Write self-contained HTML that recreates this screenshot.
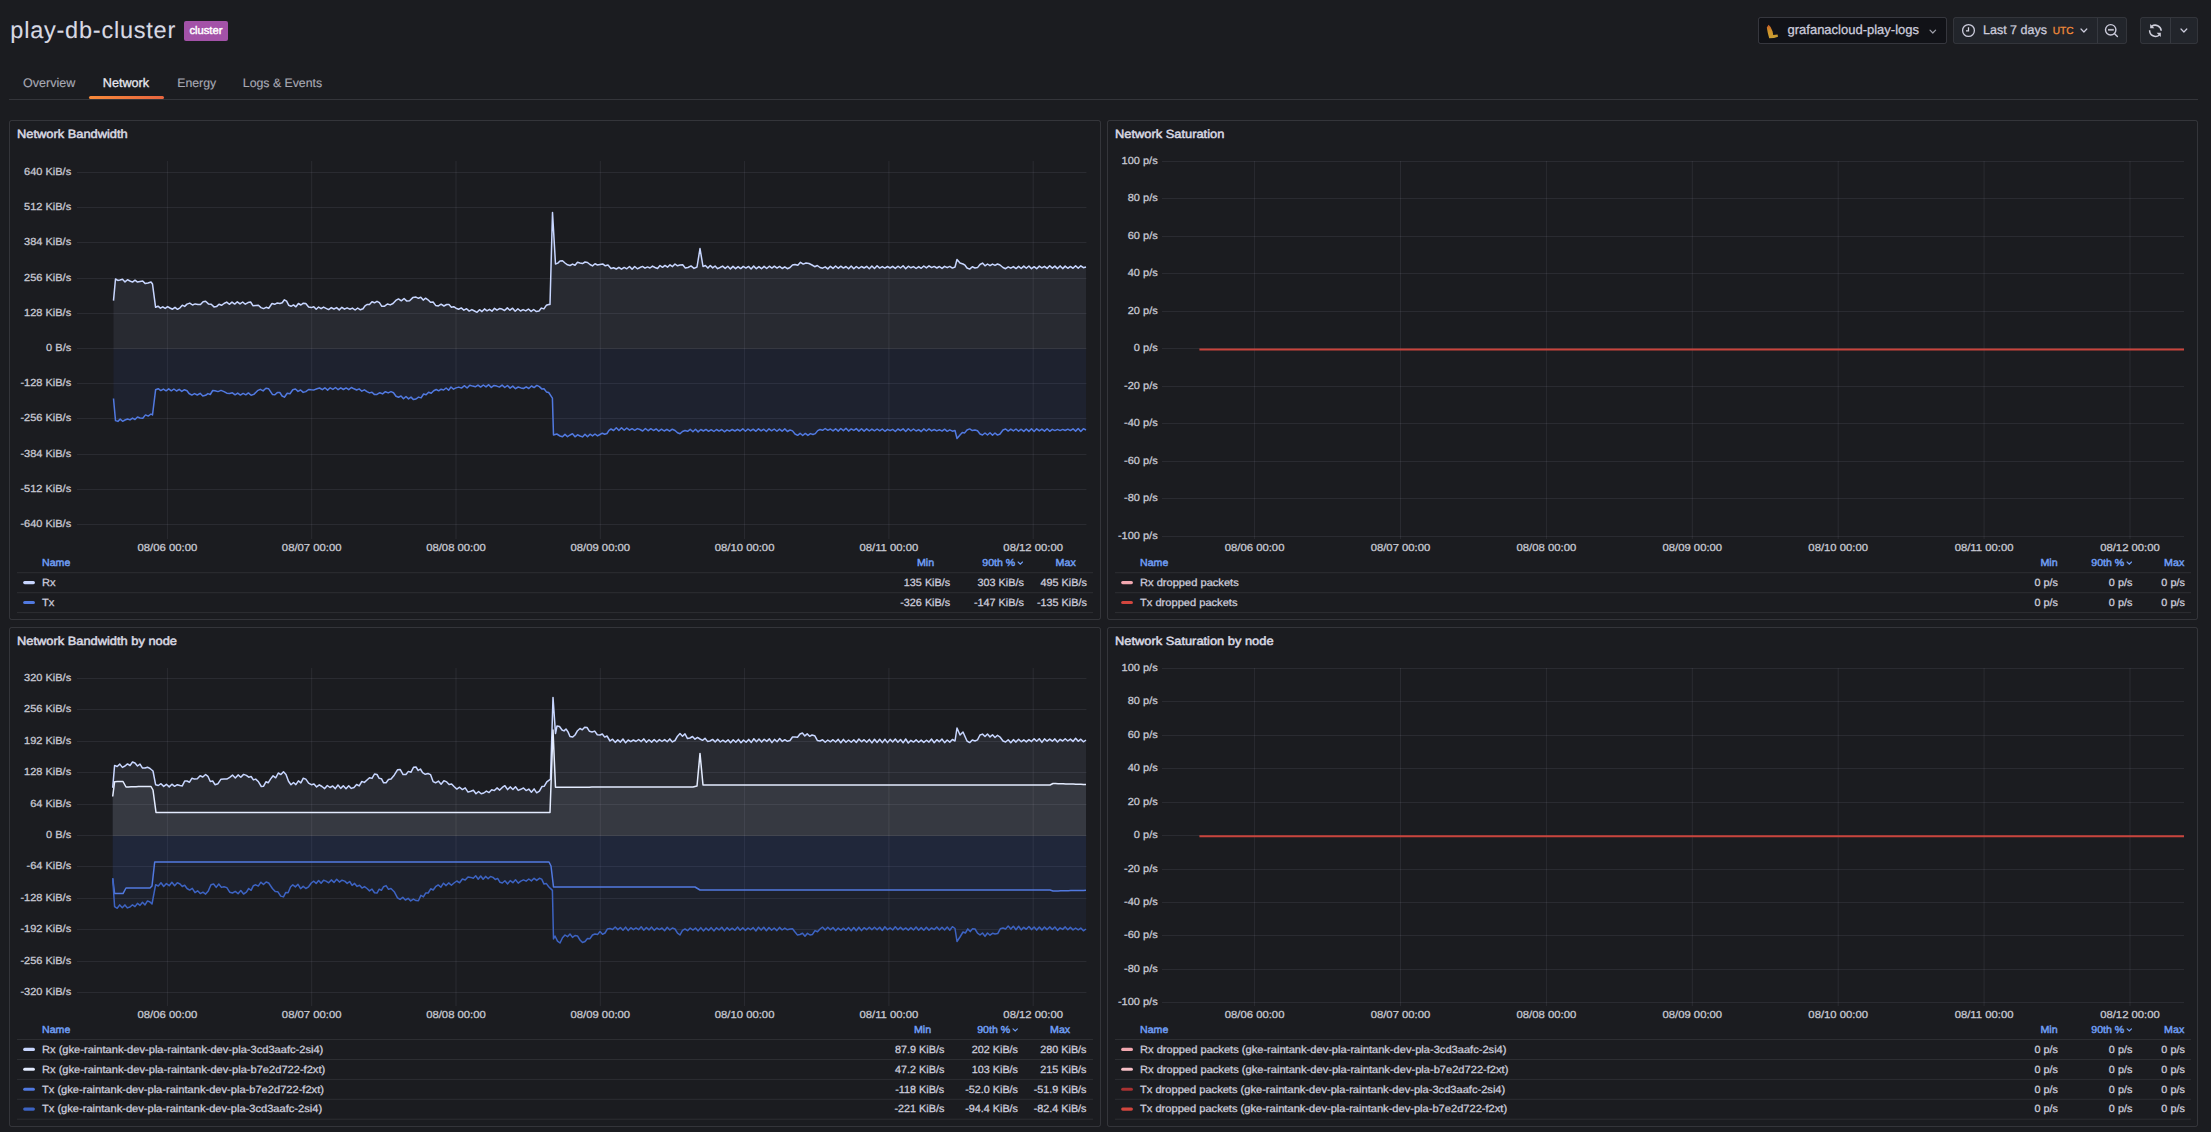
<!DOCTYPE html>
<html><head><meta charset="utf-8"><title>play-db-cluster - Network</title>
<style>
html,body{margin:0;padding:0;background:#1b1c20;width:2211px;height:1132px;overflow:hidden;font-family:"Liberation Sans", sans-serif;}
.page{position:relative;width:2211px;height:1132px;}
</style></head><body><div class="page">
<svg width="2211" height="1132" viewBox="0 0 2211 1132" style="position:absolute;left:0;top:0;font-family:'Liberation Sans', sans-serif;text-rendering:geometricPrecision">
<text x="10.30" y="37.70" font-size="23.50" fill="#d8d9e3" stroke="#d8d9e3" stroke-width="0.1" text-anchor="start" font-weight="normal" textLength="165" lengthAdjust="spacing">play-db-cluster</text>
<rect x="184" y="21" width="44" height="20" rx="2" fill="#a352a8"/>
<text x="189.40" y="34.00" font-size="11.00" fill="#ffffff" stroke="#ffffff" stroke-width="0.45" text-anchor="start" font-weight="normal" textLength="33" lengthAdjust="spacingAndGlyphs">cluster</text>
<rect x="1758.5" y="17.5" width="188" height="26" rx="2" fill="#111217" stroke="rgba(204,204,220,0.18)"/>
<defs><linearGradient id="lokig" x1="0" x2="0" y1="0" y2="1"><stop offset="0" stop-color="#e8662c"/><stop offset="0.45" stop-color="#f0a82c"/><stop offset="1" stop-color="#e9b83a"/></linearGradient></defs>
<path d="M1766.8,27.5 L1768.6,24.8 L1770.6,27 L1772.6,31.5 L1773.2,35 L1777.6,34.6 L1778,36.8 L1774,38 L1769.2,38.2 L1767.8,33 Z" fill="url(#lokig)" opacity="0.85"/>
<text x="1787.50" y="33.80" font-size="13.00" fill="#ccccdc" stroke="#ccccdc" stroke-width="0.28" text-anchor="start" font-weight="normal" >grafanacloud-play-logs</text>
<path d="M1930,30.2 L1932.8,33 L1935.6,30.2" fill="none" stroke="#9fa0aa" stroke-width="1.2" stroke-linecap="round" stroke-linejoin="round"/>
<rect x="1953.5" y="17.5" width="173" height="26" rx="2" fill="#22252b" stroke="rgba(204,204,220,0.12)"/>
<line x1="2097.5" y1="18" x2="2097.5" y2="43" stroke="rgba(204,204,220,0.12)"/>
<circle cx="1968.5" cy="30.5" r="5.9" fill="none" stroke="#ccccdc" stroke-width="1.3"/>
<path d="M1968.5,27.2 L1968.5,30.8 L1966.0,30.8" fill="none" stroke="#d8d8e4" stroke-width="1.3"/>
<text x="1983.00" y="33.80" font-size="12.50" fill="#ccccdc" stroke="#ccccdc" stroke-width="0.28" text-anchor="start" font-weight="normal" >Last 7 days</text>
<text x="2052.70" y="33.80" font-size="10.20" fill="#f08a3a" stroke="#f08a3a" stroke-width="0.28" text-anchor="start" font-weight="normal" >UTC</text>
<path d="M2081,29 L2083.9,32 L2086.8,29" fill="none" stroke="#ccccdc" stroke-width="1.2" stroke-linecap="round" stroke-linejoin="round"/>
<circle cx="2110.7" cy="29.8" r="5.2" fill="none" stroke="#ccccdc" stroke-width="1.4"/>
<line x1="2108" y1="29.8" x2="2113.8" y2="29.8" stroke="#b8b8c4" stroke-width="1.8"/>
<line x1="2114.6" y1="33.8" x2="2117.4" y2="36.5" stroke="#ccccdc" stroke-width="1.4" stroke-linecap="round"/>
<rect x="2140.5" y="17.5" width="57" height="26" rx="2" fill="#22252b" stroke="rgba(204,204,220,0.12)"/>
<line x1="2170.5" y1="18" x2="2170.5" y2="43" stroke="rgba(204,204,220,0.12)"/>
<path d="M2151.6,26.4 A6,6 0 0 1 2161.2,30.8" fill="none" stroke="#d0d0dc" stroke-width="1.5"/>
<path d="M2149.6,30.2 A6,6 0 0 0 2159.4,35.0" fill="none" stroke="#d0d0dc" stroke-width="1.5"/>
<path d="M2150.2,24 L2150.2,28.3 L2154.4,28.3 Z" fill="#d0d0dc"/>
<path d="M2160.8,37.1 L2160.8,32.8 L2156.6,32.8 Z" fill="#d0d0dc"/>
<path d="M2181,29 L2183.9,32 L2186.8,29" fill="none" stroke="#ccccdc" stroke-width="1.2" stroke-linecap="round" stroke-linejoin="round"/>
<text x="23.10" y="87.10" font-size="12.50" fill="#a8a9b4" stroke="#a8a9b4" stroke-width="0.15" text-anchor="start" font-weight="normal" >Overview</text>
<text x="102.80" y="87.10" font-size="12.60" fill="#e8e8f0" stroke="#e8e8f0" stroke-width="0.3" text-anchor="start" font-weight="normal" >Network</text>
<text x="177.20" y="87.10" font-size="12.30" fill="#a8a9b4" stroke="#a8a9b4" stroke-width="0.15" text-anchor="start" font-weight="normal" >Energy</text>
<text x="242.80" y="87.10" font-size="12.30" fill="#a8a9b4" stroke="#a8a9b4" stroke-width="0.15" text-anchor="start" font-weight="normal" >Logs &amp; Events</text>
<defs><linearGradient id="tabg" x1="0" x2="1" y1="0" y2="0"><stop offset="0" stop-color="#f88a3a"/><stop offset="1" stop-color="#e8653f"/></linearGradient></defs>
<line x1="9" y1="99.5" x2="2198" y2="99.5" stroke="rgba(204,204,220,0.14)"/>
<rect x="89" y="96" width="75" height="3" rx="1.5" fill="url(#tabg)"/>
<rect x="9.5" y="120.5" width="1091" height="499" rx="2" fill="none" stroke="rgba(204,204,220,0.14)"/>
<text x="17.00" y="138.30" font-size="11.95" fill="#d8d8e2" stroke="#d8d8e2" stroke-width="0.5" text-anchor="start" font-weight="normal"  textLength="110.71" lengthAdjust="spacingAndGlyphs">Network Bandwidth</text>
<rect x="1107.5" y="120.5" width="1090" height="499" rx="2" fill="none" stroke="rgba(204,204,220,0.14)"/>
<text x="1115.00" y="138.30" font-size="11.95" fill="#d8d8e2" stroke="#d8d8e2" stroke-width="0.5" text-anchor="start" font-weight="normal"  textLength="109.28" lengthAdjust="spacingAndGlyphs">Network Saturation</text>
<rect x="9.5" y="627.5" width="1091" height="499" rx="2" fill="none" stroke="rgba(204,204,220,0.14)"/>
<text x="17.00" y="645.00" font-size="11.95" fill="#d8d8e2" stroke="#d8d8e2" stroke-width="0.5" text-anchor="start" font-weight="normal"  textLength="160.00" lengthAdjust="spacingAndGlyphs">Network Bandwidth by node</text>
<rect x="1107.5" y="627.5" width="1090" height="499" rx="2" fill="none" stroke="rgba(204,204,220,0.14)"/>
<text x="1115.00" y="645.00" font-size="11.95" fill="#d8d8e2" stroke="#d8d8e2" stroke-width="0.5" text-anchor="start" font-weight="normal"  textLength="158.57" lengthAdjust="spacingAndGlyphs">Network Saturation by node</text>
<line x1="77" y1="172.5" x2="1086.4" y2="172.5" stroke="rgba(204,204,220,0.09)"/>
<text x="71.20" y="175.40" font-size="10.23" fill="#c7c8d2" stroke="#c7c8d2" stroke-width="0.28" text-anchor="end" font-weight="normal"  textLength="47.08" lengthAdjust="spacingAndGlyphs">640 KiB/s</text>
<line x1="77" y1="207.5" x2="1086.4" y2="207.5" stroke="rgba(204,204,220,0.09)"/>
<text x="71.20" y="210.40" font-size="10.23" fill="#c7c8d2" stroke="#c7c8d2" stroke-width="0.28" text-anchor="end" font-weight="normal"  textLength="47.08" lengthAdjust="spacingAndGlyphs">512 KiB/s</text>
<line x1="77" y1="242.5" x2="1086.4" y2="242.5" stroke="rgba(204,204,220,0.09)"/>
<text x="71.20" y="245.40" font-size="10.23" fill="#c7c8d2" stroke="#c7c8d2" stroke-width="0.28" text-anchor="end" font-weight="normal"  textLength="47.08" lengthAdjust="spacingAndGlyphs">384 KiB/s</text>
<line x1="77" y1="278.5" x2="1086.4" y2="278.5" stroke="rgba(204,204,220,0.09)"/>
<text x="71.20" y="281.40" font-size="10.23" fill="#c7c8d2" stroke="#c7c8d2" stroke-width="0.28" text-anchor="end" font-weight="normal"  textLength="47.08" lengthAdjust="spacingAndGlyphs">256 KiB/s</text>
<line x1="77" y1="313.5" x2="1086.4" y2="313.5" stroke="rgba(204,204,220,0.09)"/>
<text x="71.20" y="316.40" font-size="10.23" fill="#c7c8d2" stroke="#c7c8d2" stroke-width="0.28" text-anchor="end" font-weight="normal"  textLength="47.08" lengthAdjust="spacingAndGlyphs">128 KiB/s</text>
<line x1="77" y1="348.5" x2="1086.4" y2="348.5" stroke="rgba(204,204,220,0.09)"/>
<text x="71.20" y="351.40" font-size="10.23" fill="#c7c8d2" stroke="#c7c8d2" stroke-width="0.28" text-anchor="end" font-weight="normal"  textLength="25.07" lengthAdjust="spacingAndGlyphs">0 B/s</text>
<line x1="77" y1="383.5" x2="1086.4" y2="383.5" stroke="rgba(204,204,220,0.09)"/>
<text x="71.20" y="386.40" font-size="10.23" fill="#c7c8d2" stroke="#c7c8d2" stroke-width="0.28" text-anchor="end" font-weight="normal"  textLength="50.75" lengthAdjust="spacingAndGlyphs">-128 KiB/s</text>
<line x1="77" y1="418.5" x2="1086.4" y2="418.5" stroke="rgba(204,204,220,0.09)"/>
<text x="71.20" y="421.40" font-size="10.23" fill="#c7c8d2" stroke="#c7c8d2" stroke-width="0.28" text-anchor="end" font-weight="normal"  textLength="50.75" lengthAdjust="spacingAndGlyphs">-256 KiB/s</text>
<line x1="77" y1="454.5" x2="1086.4" y2="454.5" stroke="rgba(204,204,220,0.09)"/>
<text x="71.20" y="457.40" font-size="10.23" fill="#c7c8d2" stroke="#c7c8d2" stroke-width="0.28" text-anchor="end" font-weight="normal"  textLength="50.75" lengthAdjust="spacingAndGlyphs">-384 KiB/s</text>
<line x1="77" y1="489.5" x2="1086.4" y2="489.5" stroke="rgba(204,204,220,0.09)"/>
<text x="71.20" y="492.40" font-size="10.23" fill="#c7c8d2" stroke="#c7c8d2" stroke-width="0.28" text-anchor="end" font-weight="normal"  textLength="50.75" lengthAdjust="spacingAndGlyphs">-512 KiB/s</text>
<line x1="77" y1="524.5" x2="1086.4" y2="524.5" stroke="rgba(204,204,220,0.09)"/>
<text x="71.20" y="527.40" font-size="10.23" fill="#c7c8d2" stroke="#c7c8d2" stroke-width="0.28" text-anchor="end" font-weight="normal"  textLength="50.75" lengthAdjust="spacingAndGlyphs">-640 KiB/s</text>
<line x1="167.4" y1="161" x2="167.4" y2="539" stroke="rgba(204,204,220,0.09)"/>
<text x="167.40" y="551.20" font-size="10.17" fill="#c7c8d2" stroke="#c7c8d2" stroke-width="0.28" text-anchor="middle" font-weight="normal"  textLength="59.69" lengthAdjust="spacingAndGlyphs">08/06 00:00</text>
<line x1="311.7" y1="161" x2="311.7" y2="539" stroke="rgba(204,204,220,0.09)"/>
<text x="311.70" y="551.20" font-size="10.17" fill="#c7c8d2" stroke="#c7c8d2" stroke-width="0.28" text-anchor="middle" font-weight="normal"  textLength="59.69" lengthAdjust="spacingAndGlyphs">08/07 00:00</text>
<line x1="456.0" y1="161" x2="456.0" y2="539" stroke="rgba(204,204,220,0.09)"/>
<text x="456.00" y="551.20" font-size="10.17" fill="#c7c8d2" stroke="#c7c8d2" stroke-width="0.28" text-anchor="middle" font-weight="normal"  textLength="59.69" lengthAdjust="spacingAndGlyphs">08/08 00:00</text>
<line x1="600.3" y1="161" x2="600.3" y2="539" stroke="rgba(204,204,220,0.09)"/>
<text x="600.30" y="551.20" font-size="10.17" fill="#c7c8d2" stroke="#c7c8d2" stroke-width="0.28" text-anchor="middle" font-weight="normal"  textLength="59.69" lengthAdjust="spacingAndGlyphs">08/09 00:00</text>
<line x1="744.6" y1="161" x2="744.6" y2="539" stroke="rgba(204,204,220,0.09)"/>
<text x="744.60" y="551.20" font-size="10.17" fill="#c7c8d2" stroke="#c7c8d2" stroke-width="0.28" text-anchor="middle" font-weight="normal"  textLength="59.69" lengthAdjust="spacingAndGlyphs">08/10 00:00</text>
<line x1="888.9" y1="161" x2="888.9" y2="539" stroke="rgba(204,204,220,0.09)"/>
<text x="888.90" y="551.20" font-size="10.17" fill="#c7c8d2" stroke="#c7c8d2" stroke-width="0.28" text-anchor="middle" font-weight="normal"  textLength="58.86" lengthAdjust="spacingAndGlyphs">08/11 00:00</text>
<line x1="1033.2" y1="161" x2="1033.2" y2="539" stroke="rgba(204,204,220,0.09)"/>
<text x="1033.20" y="551.20" font-size="10.17" fill="#c7c8d2" stroke="#c7c8d2" stroke-width="0.28" text-anchor="middle" font-weight="normal"  textLength="59.69" lengthAdjust="spacingAndGlyphs">08/12 00:00</text>
<path d="M113.5,300.6 L115.5,279.0 L117.8,280.4 L120.0,280.0 L122.5,279.2 L125.0,281.9 L127.5,279.8 L130.0,281.0 L132.5,282.1 L135.0,280.2 L137.5,282.1 L140.0,281.5 L142.7,281.0 L145.3,283.6 L148.0,283.0 L151.0,282.0 L152.5,284.0 L155.6,307.3 L158.0,306.2 L160.4,308.2 L162.8,306.8 L165.2,308.4 L167.6,306.6 L170.0,308.0 L172.5,309.2 L175.0,307.3 L177.5,309.3 L180.0,307.8 L182.3,305.2 L184.7,306.4 L187.0,304.1 L189.8,303.1 L192.5,305.0 L195.2,303.9 L198.0,304.5 L200.5,304.5 L203.1,301.8 L205.6,301.3 L208.4,303.9 L211.2,304.3 L214.0,306.9 L216.5,306.6 L219.0,304.2 L221.5,305.3 L224.0,303.5 L226.7,302.1 L229.3,304.3 L232.0,302.1 L234.7,304.1 L237.3,301.8 L240.0,303.9 L242.7,302.0 L245.3,304.2 L248.0,302.6 L250.6,302.0 L253.1,305.8 L255.7,305.4 L258.4,305.3 L261.0,307.6 L263.6,308.6 L266.1,307.3 L268.7,308.2 L272.0,303.5 L274.7,304.3 L277.3,302.9 L280.0,303.5 L282.2,302.8 L284.4,299.8 L286.6,301.2 L288.8,305.3 L291.0,306.3 L293.5,304.9 L295.9,306.8 L298.4,303.5 L300.9,305.0 L303.3,303.2 L305.8,303.5 L308.6,307.0 L311.3,307.6 L313.8,306.8 L316.2,309.3 L318.6,307.0 L321.1,308.7 L323.6,307.1 L326.0,308.3 L328.6,309.6 L331.3,307.6 L333.9,309.0 L336.6,307.6 L339.2,309.9 L341.9,307.3 L344.5,309.2 L347.1,307.8 L349.8,309.2 L352.4,308.1 L355.1,310.0 L357.7,308.0 L360.4,309.8 L363.0,308.8 L365.0,305.9 L367.0,304.5 L369.5,304.4 L372.0,301.7 L374.5,302.8 L377.0,301.3 L379.4,302.7 L381.8,306.3 L384.6,306.2 L387.4,304.0 L390.2,304.9 L393.0,303.5 L395.8,300.4 L398.5,298.9 L401.3,300.8 L404.1,298.5 L406.8,301.1 L409.6,300.8 L412.8,297.6 L416.0,297.1 L418.4,298.3 L420.8,297.3 L423.2,300.1 L425.6,298.2 L428.0,299.8 L430.5,302.3 L433.1,302.0 L435.6,305.4 L438.4,305.9 L441.1,304.2 L443.9,306.0 L446.7,304.5 L449.0,304.6 L451.4,307.2 L453.7,306.7 L456.0,308.2 L458.6,309.2 L461.3,307.9 L463.9,310.2 L466.6,308.7 L469.2,311.1 L471.9,309.6 L474.5,311.0 L477.0,312.3 L479.5,309.7 L482.0,311.6 L484.5,308.9 L487.0,310.8 L489.5,309.3 L492.0,311.2 L494.5,308.3 L497.0,310.2 L499.5,308.6 L502.0,309.1 L504.6,310.5 L507.3,307.9 L509.9,310.2 L512.6,308.2 L515.2,311.2 L517.9,308.8 L520.5,311.0 L523.1,309.6 L525.8,310.9 L528.4,309.0 L531.1,311.4 L533.7,309.5 L536.4,311.6 L539.0,311.0 L541.4,308.1 L543.9,308.9 L546.3,305.3 L548.7,304.5 L550.0,304.5 L552.5,212.4 L555.5,264.0 L557.8,263.1 L560.0,261.0 L562.5,260.8 L565.0,263.0 L567.5,264.8 L570.0,265.5 L572.5,264.1 L575.0,265.3 L577.5,262.3 L580.0,263.0 L582.5,263.6 L585.0,262.0 L587.5,262.5 L590.0,264.5 L592.5,265.9 L595.0,263.8 L597.5,265.0 L600.0,264.5 L602.7,263.9 L605.3,265.8 L608.0,265.0 L611.0,268.5 L613.6,267.8 L616.3,269.0 L618.9,267.3 L621.5,269.2 L624.2,267.4 L626.8,268.8 L629.5,266.5 L632.1,269.3 L634.7,266.5 L637.4,268.8 L640.0,267.5 L642.5,266.4 L645.0,268.2 L647.5,266.9 L650.0,268.0 L652.5,266.1 L655.0,267.5 L657.5,268.5 L660.0,265.5 L662.5,267.3 L665.0,265.4 L667.5,267.2 L670.0,264.8 L672.5,266.6 L675.0,264.0 L677.5,265.8 L680.0,265.0 L682.7,264.8 L685.3,267.9 L688.0,267.5 L691.0,265.9 L694.0,268.4 L697.0,267.0 L700.0,248.5 L703.0,266.5 L705.4,265.5 L707.9,268.1 L710.3,265.5 L712.7,267.9 L715.1,266.0 L717.6,268.7 L720.0,267.5 L722.6,266.1 L725.2,268.4 L727.8,266.2 L730.4,268.9 L733.0,266.4 L735.6,268.6 L738.1,266.6 L740.7,268.6 L743.3,266.4 L745.9,268.1 L748.5,266.4 L751.1,269.0 L753.7,266.1 L756.3,268.7 L758.9,266.6 L761.5,268.7 L764.1,266.4 L766.7,268.5 L769.3,266.2 L771.9,268.1 L774.4,266.2 L777.0,268.1 L779.6,266.4 L782.2,268.5 L784.8,266.8 L787.4,268.7 L790.0,267.5 L792.5,265.0 L795.0,264.5 L797.8,265.2 L800.5,262.3 L803.2,264.1 L806.0,263.0 L809.0,263.5 L812.0,265.0 L814.7,266.7 L817.3,265.5 L820.0,267.5 L822.6,268.2 L825.2,266.8 L827.8,268.9 L830.4,266.3 L833.0,268.4 L835.6,266.0 L838.2,268.3 L840.8,266.2 L843.4,268.1 L846.0,266.5 L848.6,268.7 L851.2,266.0 L853.8,268.8 L856.3,266.5 L858.9,268.4 L861.5,266.5 L864.1,268.0 L866.7,266.3 L869.3,268.7 L871.9,266.0 L874.5,268.5 L877.1,265.8 L879.7,268.1 L882.3,266.6 L884.9,268.2 L887.5,266.5 L890.1,268.0 L892.7,266.3 L895.3,268.4 L897.9,266.2 L900.5,268.0 L903.1,265.8 L905.7,268.7 L908.3,266.2 L910.9,267.8 L913.5,266.6 L916.1,268.5 L918.7,266.6 L921.2,268.3 L923.8,266.0 L926.4,267.9 L929.0,265.8 L931.6,267.6 L934.2,266.4 L936.8,268.0 L939.4,266.5 L942.0,268.4 L944.6,266.3 L947.2,267.7 L949.8,266.4 L952.4,268.1 L955.0,267.0 L957.0,259.5 L960.0,263.0 L963.0,264.0 L965.0,265.2 L967.0,268.0 L969.7,269.1 L972.3,266.8 L975.0,268.0 L977.5,267.6 L980.0,264.5 L982.5,263.1 L985.0,265.8 L987.5,264.0 L990.0,265.7 L992.5,264.1 L995.0,265.4 L997.5,264.0 L1000.0,265.0 L1003.0,267.5 L1005.6,268.7 L1008.2,266.8 L1010.8,268.2 L1013.4,266.6 L1016.0,268.6 L1018.6,266.4 L1021.2,268.5 L1023.8,266.1 L1026.3,268.3 L1028.9,266.0 L1031.5,268.7 L1034.1,266.7 L1036.7,268.7 L1039.3,266.1 L1041.9,267.9 L1044.5,266.3 L1047.1,268.4 L1049.7,265.8 L1052.3,268.1 L1054.9,266.1 L1057.5,268.6 L1060.1,265.9 L1062.7,268.6 L1065.2,266.1 L1067.8,268.3 L1070.4,266.4 L1073.0,268.3 L1075.6,265.7 L1078.2,268.2 L1080.8,265.8 L1083.4,267.7 L1086.0,267.0 L1086.0,349.0 L113.5,349.0 Z" fill="rgba(200,214,255,0.08)"/>
<path d="M113.5,300.6 L115.5,279.0 L117.8,280.4 L120.0,280.0 L122.5,279.2 L125.0,281.9 L127.5,279.8 L130.0,281.0 L132.5,282.1 L135.0,280.2 L137.5,282.1 L140.0,281.5 L142.7,281.0 L145.3,283.6 L148.0,283.0 L151.0,282.0 L152.5,284.0 L155.6,307.3 L158.0,306.2 L160.4,308.2 L162.8,306.8 L165.2,308.4 L167.6,306.6 L170.0,308.0 L172.5,309.2 L175.0,307.3 L177.5,309.3 L180.0,307.8 L182.3,305.2 L184.7,306.4 L187.0,304.1 L189.8,303.1 L192.5,305.0 L195.2,303.9 L198.0,304.5 L200.5,304.5 L203.1,301.8 L205.6,301.3 L208.4,303.9 L211.2,304.3 L214.0,306.9 L216.5,306.6 L219.0,304.2 L221.5,305.3 L224.0,303.5 L226.7,302.1 L229.3,304.3 L232.0,302.1 L234.7,304.1 L237.3,301.8 L240.0,303.9 L242.7,302.0 L245.3,304.2 L248.0,302.6 L250.6,302.0 L253.1,305.8 L255.7,305.4 L258.4,305.3 L261.0,307.6 L263.6,308.6 L266.1,307.3 L268.7,308.2 L272.0,303.5 L274.7,304.3 L277.3,302.9 L280.0,303.5 L282.2,302.8 L284.4,299.8 L286.6,301.2 L288.8,305.3 L291.0,306.3 L293.5,304.9 L295.9,306.8 L298.4,303.5 L300.9,305.0 L303.3,303.2 L305.8,303.5 L308.6,307.0 L311.3,307.6 L313.8,306.8 L316.2,309.3 L318.6,307.0 L321.1,308.7 L323.6,307.1 L326.0,308.3 L328.6,309.6 L331.3,307.6 L333.9,309.0 L336.6,307.6 L339.2,309.9 L341.9,307.3 L344.5,309.2 L347.1,307.8 L349.8,309.2 L352.4,308.1 L355.1,310.0 L357.7,308.0 L360.4,309.8 L363.0,308.8 L365.0,305.9 L367.0,304.5 L369.5,304.4 L372.0,301.7 L374.5,302.8 L377.0,301.3 L379.4,302.7 L381.8,306.3 L384.6,306.2 L387.4,304.0 L390.2,304.9 L393.0,303.5 L395.8,300.4 L398.5,298.9 L401.3,300.8 L404.1,298.5 L406.8,301.1 L409.6,300.8 L412.8,297.6 L416.0,297.1 L418.4,298.3 L420.8,297.3 L423.2,300.1 L425.6,298.2 L428.0,299.8 L430.5,302.3 L433.1,302.0 L435.6,305.4 L438.4,305.9 L441.1,304.2 L443.9,306.0 L446.7,304.5 L449.0,304.6 L451.4,307.2 L453.7,306.7 L456.0,308.2 L458.6,309.2 L461.3,307.9 L463.9,310.2 L466.6,308.7 L469.2,311.1 L471.9,309.6 L474.5,311.0 L477.0,312.3 L479.5,309.7 L482.0,311.6 L484.5,308.9 L487.0,310.8 L489.5,309.3 L492.0,311.2 L494.5,308.3 L497.0,310.2 L499.5,308.6 L502.0,309.1 L504.6,310.5 L507.3,307.9 L509.9,310.2 L512.6,308.2 L515.2,311.2 L517.9,308.8 L520.5,311.0 L523.1,309.6 L525.8,310.9 L528.4,309.0 L531.1,311.4 L533.7,309.5 L536.4,311.6 L539.0,311.0 L541.4,308.1 L543.9,308.9 L546.3,305.3 L548.7,304.5 L550.0,304.5 L552.5,212.4 L555.5,264.0 L557.8,263.1 L560.0,261.0 L562.5,260.8 L565.0,263.0 L567.5,264.8 L570.0,265.5 L572.5,264.1 L575.0,265.3 L577.5,262.3 L580.0,263.0 L582.5,263.6 L585.0,262.0 L587.5,262.5 L590.0,264.5 L592.5,265.9 L595.0,263.8 L597.5,265.0 L600.0,264.5 L602.7,263.9 L605.3,265.8 L608.0,265.0 L611.0,268.5 L613.6,267.8 L616.3,269.0 L618.9,267.3 L621.5,269.2 L624.2,267.4 L626.8,268.8 L629.5,266.5 L632.1,269.3 L634.7,266.5 L637.4,268.8 L640.0,267.5 L642.5,266.4 L645.0,268.2 L647.5,266.9 L650.0,268.0 L652.5,266.1 L655.0,267.5 L657.5,268.5 L660.0,265.5 L662.5,267.3 L665.0,265.4 L667.5,267.2 L670.0,264.8 L672.5,266.6 L675.0,264.0 L677.5,265.8 L680.0,265.0 L682.7,264.8 L685.3,267.9 L688.0,267.5 L691.0,265.9 L694.0,268.4 L697.0,267.0 L700.0,248.5 L703.0,266.5 L705.4,265.5 L707.9,268.1 L710.3,265.5 L712.7,267.9 L715.1,266.0 L717.6,268.7 L720.0,267.5 L722.6,266.1 L725.2,268.4 L727.8,266.2 L730.4,268.9 L733.0,266.4 L735.6,268.6 L738.1,266.6 L740.7,268.6 L743.3,266.4 L745.9,268.1 L748.5,266.4 L751.1,269.0 L753.7,266.1 L756.3,268.7 L758.9,266.6 L761.5,268.7 L764.1,266.4 L766.7,268.5 L769.3,266.2 L771.9,268.1 L774.4,266.2 L777.0,268.1 L779.6,266.4 L782.2,268.5 L784.8,266.8 L787.4,268.7 L790.0,267.5 L792.5,265.0 L795.0,264.5 L797.8,265.2 L800.5,262.3 L803.2,264.1 L806.0,263.0 L809.0,263.5 L812.0,265.0 L814.7,266.7 L817.3,265.5 L820.0,267.5 L822.6,268.2 L825.2,266.8 L827.8,268.9 L830.4,266.3 L833.0,268.4 L835.6,266.0 L838.2,268.3 L840.8,266.2 L843.4,268.1 L846.0,266.5 L848.6,268.7 L851.2,266.0 L853.8,268.8 L856.3,266.5 L858.9,268.4 L861.5,266.5 L864.1,268.0 L866.7,266.3 L869.3,268.7 L871.9,266.0 L874.5,268.5 L877.1,265.8 L879.7,268.1 L882.3,266.6 L884.9,268.2 L887.5,266.5 L890.1,268.0 L892.7,266.3 L895.3,268.4 L897.9,266.2 L900.5,268.0 L903.1,265.8 L905.7,268.7 L908.3,266.2 L910.9,267.8 L913.5,266.6 L916.1,268.5 L918.7,266.6 L921.2,268.3 L923.8,266.0 L926.4,267.9 L929.0,265.8 L931.6,267.6 L934.2,266.4 L936.8,268.0 L939.4,266.5 L942.0,268.4 L944.6,266.3 L947.2,267.7 L949.8,266.4 L952.4,268.1 L955.0,267.0 L957.0,259.5 L960.0,263.0 L963.0,264.0 L965.0,265.2 L967.0,268.0 L969.7,269.1 L972.3,266.8 L975.0,268.0 L977.5,267.6 L980.0,264.5 L982.5,263.1 L985.0,265.8 L987.5,264.0 L990.0,265.7 L992.5,264.1 L995.0,265.4 L997.5,264.0 L1000.0,265.0 L1003.0,267.5 L1005.6,268.7 L1008.2,266.8 L1010.8,268.2 L1013.4,266.6 L1016.0,268.6 L1018.6,266.4 L1021.2,268.5 L1023.8,266.1 L1026.3,268.3 L1028.9,266.0 L1031.5,268.7 L1034.1,266.7 L1036.7,268.7 L1039.3,266.1 L1041.9,267.9 L1044.5,266.3 L1047.1,268.4 L1049.7,265.8 L1052.3,268.1 L1054.9,266.1 L1057.5,268.6 L1060.1,265.9 L1062.7,268.6 L1065.2,266.1 L1067.8,268.3 L1070.4,266.4 L1073.0,268.3 L1075.6,265.7 L1078.2,268.2 L1080.8,265.8 L1083.4,267.7 L1086.0,267.0" fill="none" stroke="#c8d6ff" stroke-width="1.5" stroke-linejoin="round"/>
<path d="M113.5,398.5 L115.5,420.6 L117.9,421.4 L120.2,419.1 L122.6,421.3 L125.0,420.0 L127.5,419.0 L130.0,419.9 L132.5,418.1 L135.0,419.5 L137.5,417.0 L140.0,418.0 L142.8,418.2 L145.5,414.9 L148.2,416.1 L151.0,414.0 L152.5,415.0 L155.6,389.8 L158.2,388.7 L160.8,390.6 L163.4,389.1 L166.1,390.8 L168.7,388.8 L171.3,390.8 L173.9,389.0 L176.5,391.0 L179.2,389.3 L181.8,391.4 L184.4,389.7 L187.0,390.7 L189.0,393.5 L191.8,395.1 L194.5,393.6 L197.3,395.0 L200.1,393.3 L202.8,396.0 L205.6,395.3 L207.9,393.6 L210.3,394.5 L212.7,390.5 L215.0,390.7 L218.0,391.6 L221.0,390.4 L224.0,391.6 L226.8,393.2 L229.7,393.5 L232.4,392.8 L235.1,394.8 L237.7,393.1 L240.4,395.1 L243.1,393.4 L245.8,394.8 L248.4,392.9 L251.1,395.2 L253.8,394.4 L257.5,390.7 L260.3,389.3 L263.1,390.9 L265.9,388.3 L268.7,388.8 L272.4,394.4 L274.9,394.7 L277.3,392.6 L279.8,392.5 L282.1,396.0 L284.4,397.2 L287.2,393.3 L290.0,393.7 L292.8,389.8 L295.4,389.0 L298.0,391.4 L300.6,390.0 L303.2,392.4 L305.8,391.6 L308.6,389.5 L311.3,389.8 L314.1,389.9 L317.0,388.8 L319.6,388.0 L322.3,389.7 L324.9,387.8 L327.6,390.1 L330.2,387.8 L332.9,389.4 L335.5,387.5 L338.1,389.7 L340.8,387.8 L343.4,389.5 L346.1,387.9 L348.7,389.7 L351.4,387.5 L354.0,388.8 L356.6,390.0 L359.2,388.9 L361.8,391.2 L364.4,389.8 L367.0,391.6 L369.5,392.9 L372.0,392.2 L374.5,394.6 L377.0,394.4 L379.8,392.7 L382.6,393.9 L385.4,391.7 L388.2,392.9 L391.0,391.6 L393.5,392.7 L396.0,396.3 L398.5,397.2 L401.0,396.0 L403.5,398.7 L406.0,396.5 L408.5,398.9 L411.0,397.1 L413.5,399.6 L416.0,399.0 L418.5,397.1 L421.1,397.9 L423.6,394.0 L426.1,394.8 L428.6,392.3 L431.2,393.2 L433.7,390.7 L436.2,389.5 L438.7,390.8 L441.1,389.2 L443.6,390.0 L446.1,388.0 L448.6,390.3 L451.0,387.0 L453.5,389.2 L456.0,387.9 L458.8,387.1 L461.5,388.1 L464.3,385.7 L467.1,388.0 L469.8,385.3 L472.6,386.1 L475.3,386.8 L478.0,385.1 L480.6,387.1 L483.3,385.0 L486.0,386.9 L488.7,384.7 L491.3,387.5 L494.0,385.4 L496.7,386.1 L499.4,387.1 L502.1,385.1 L504.8,387.5 L507.5,385.5 L510.1,388.1 L512.8,386.1 L515.5,388.7 L518.2,387.0 L520.9,387.9 L523.5,388.5 L526.2,386.8 L528.8,388.5 L531.5,386.0 L534.1,387.6 L536.8,385.4 L539.4,386.6 L541.7,388.9 L544.0,388.8 L546.4,391.9 L548.7,392.5 L552.4,398.1 L553.5,435.0 L556.8,434.0 L560.0,436.0 L562.5,436.8 L565.0,434.4 L567.5,436.7 L570.0,435.0 L572.5,433.8 L575.0,436.8 L577.5,434.8 L580.0,436.0 L582.5,436.9 L585.0,434.2 L587.5,436.7 L590.0,434.2 L592.5,435.9 L595.0,434.0 L597.5,435.9 L600.0,434.5 L602.3,433.2 L604.7,434.3 L607.0,433.5 L609.0,430.3 L611.0,429.0 L613.6,430.5 L616.3,427.8 L618.9,430.5 L621.5,427.8 L624.2,430.3 L626.8,428.0 L629.5,430.2 L632.1,428.7 L634.7,430.3 L637.4,428.6 L640.0,429.5 L642.7,431.0 L645.4,428.5 L648.1,430.8 L650.8,428.7 L653.5,430.5 L656.2,428.9 L658.8,431.2 L661.5,429.2 L664.2,431.0 L666.9,429.3 L669.6,431.2 L672.3,429.2 L675.0,430.5 L677.5,432.8 L680.0,433.8 L682.5,431.5 L685.0,430.5 L687.6,431.3 L690.2,429.3 L692.9,431.7 L695.5,429.3 L698.1,431.9 L700.8,429.5 L703.4,431.0 L706.0,429.4 L708.6,431.3 L711.2,429.7 L713.9,431.5 L716.5,429.5 L719.1,431.1 L721.8,429.5 L724.4,431.8 L727.0,429.8 L729.6,431.2 L732.2,429.5 L734.9,431.0 L737.5,429.3 L740.1,431.0 L742.8,428.8 L745.4,431.2 L748.0,429.0 L750.6,430.9 L753.2,429.2 L755.9,431.3 L758.5,428.8 L761.1,430.9 L763.8,429.2 L766.4,431.5 L769.0,428.8 L771.6,430.8 L774.2,429.0 L776.9,431.3 L779.5,429.1 L782.1,431.2 L784.8,428.9 L787.4,431.5 L790.0,430.0 L792.5,430.9 L795.0,434.0 L797.6,435.3 L800.1,433.3 L802.7,435.5 L805.3,433.4 L807.9,435.4 L810.4,433.6 L813.0,434.5 L815.3,433.6 L817.7,430.6 L820.0,429.5 L822.6,430.3 L825.2,428.5 L827.8,430.3 L830.4,429.0 L833.0,430.9 L835.6,428.8 L838.2,431.1 L840.8,428.5 L843.4,430.6 L846.0,428.3 L848.6,431.1 L851.2,428.9 L853.8,430.4 L856.3,428.6 L858.9,431.1 L861.5,428.7 L864.1,431.1 L866.7,428.9 L869.3,431.0 L871.9,429.1 L874.5,430.8 L877.1,429.0 L879.7,430.8 L882.3,429.0 L884.9,431.3 L887.5,429.3 L890.1,430.7 L892.7,429.3 L895.3,431.5 L897.9,429.0 L900.5,430.7 L903.1,428.8 L905.7,431.5 L908.3,428.8 L910.9,431.0 L913.5,429.0 L916.1,431.0 L918.7,429.6 L921.2,431.6 L923.8,428.9 L926.4,431.0 L929.0,428.9 L931.6,430.9 L934.2,429.5 L936.8,430.9 L939.4,429.7 L942.0,431.1 L944.6,429.2 L947.2,431.3 L949.8,429.8 L952.4,431.2 L955.0,430.5 L957.0,438.5 L960.0,435.0 L962.3,432.6 L964.7,432.9 L967.0,430.0 L969.7,428.9 L972.3,430.6 L975.0,430.0 L977.5,430.8 L980.0,434.0 L982.5,435.0 L985.0,433.0 L987.5,435.0 L990.0,432.8 L992.5,435.3 L995.0,433.0 L997.5,435.1 L1000.0,434.0 L1003.0,430.0 L1005.6,429.0 L1008.2,431.1 L1010.8,429.1 L1013.4,430.9 L1016.0,429.0 L1018.6,431.2 L1021.2,429.2 L1023.8,431.4 L1026.3,429.0 L1028.9,431.4 L1031.5,428.8 L1034.1,431.5 L1036.7,428.8 L1039.3,430.9 L1041.9,429.1 L1044.5,431.1 L1047.1,428.7 L1049.7,431.3 L1052.3,429.3 L1054.9,430.6 L1057.5,429.4 L1060.1,430.6 L1062.7,429.4 L1065.2,430.5 L1067.8,429.2 L1070.4,430.6 L1073.0,428.8 L1075.6,431.1 L1078.2,428.5 L1080.8,431.5 L1083.4,428.7 L1086.0,430.0 L1086.0,349.0 L113.5,349.0 Z" fill="rgba(81,121,224,0.08)"/>
<path d="M113.5,398.5 L115.5,420.6 L117.9,421.4 L120.2,419.1 L122.6,421.3 L125.0,420.0 L127.5,419.0 L130.0,419.9 L132.5,418.1 L135.0,419.5 L137.5,417.0 L140.0,418.0 L142.8,418.2 L145.5,414.9 L148.2,416.1 L151.0,414.0 L152.5,415.0 L155.6,389.8 L158.2,388.7 L160.8,390.6 L163.4,389.1 L166.1,390.8 L168.7,388.8 L171.3,390.8 L173.9,389.0 L176.5,391.0 L179.2,389.3 L181.8,391.4 L184.4,389.7 L187.0,390.7 L189.0,393.5 L191.8,395.1 L194.5,393.6 L197.3,395.0 L200.1,393.3 L202.8,396.0 L205.6,395.3 L207.9,393.6 L210.3,394.5 L212.7,390.5 L215.0,390.7 L218.0,391.6 L221.0,390.4 L224.0,391.6 L226.8,393.2 L229.7,393.5 L232.4,392.8 L235.1,394.8 L237.7,393.1 L240.4,395.1 L243.1,393.4 L245.8,394.8 L248.4,392.9 L251.1,395.2 L253.8,394.4 L257.5,390.7 L260.3,389.3 L263.1,390.9 L265.9,388.3 L268.7,388.8 L272.4,394.4 L274.9,394.7 L277.3,392.6 L279.8,392.5 L282.1,396.0 L284.4,397.2 L287.2,393.3 L290.0,393.7 L292.8,389.8 L295.4,389.0 L298.0,391.4 L300.6,390.0 L303.2,392.4 L305.8,391.6 L308.6,389.5 L311.3,389.8 L314.1,389.9 L317.0,388.8 L319.6,388.0 L322.3,389.7 L324.9,387.8 L327.6,390.1 L330.2,387.8 L332.9,389.4 L335.5,387.5 L338.1,389.7 L340.8,387.8 L343.4,389.5 L346.1,387.9 L348.7,389.7 L351.4,387.5 L354.0,388.8 L356.6,390.0 L359.2,388.9 L361.8,391.2 L364.4,389.8 L367.0,391.6 L369.5,392.9 L372.0,392.2 L374.5,394.6 L377.0,394.4 L379.8,392.7 L382.6,393.9 L385.4,391.7 L388.2,392.9 L391.0,391.6 L393.5,392.7 L396.0,396.3 L398.5,397.2 L401.0,396.0 L403.5,398.7 L406.0,396.5 L408.5,398.9 L411.0,397.1 L413.5,399.6 L416.0,399.0 L418.5,397.1 L421.1,397.9 L423.6,394.0 L426.1,394.8 L428.6,392.3 L431.2,393.2 L433.7,390.7 L436.2,389.5 L438.7,390.8 L441.1,389.2 L443.6,390.0 L446.1,388.0 L448.6,390.3 L451.0,387.0 L453.5,389.2 L456.0,387.9 L458.8,387.1 L461.5,388.1 L464.3,385.7 L467.1,388.0 L469.8,385.3 L472.6,386.1 L475.3,386.8 L478.0,385.1 L480.6,387.1 L483.3,385.0 L486.0,386.9 L488.7,384.7 L491.3,387.5 L494.0,385.4 L496.7,386.1 L499.4,387.1 L502.1,385.1 L504.8,387.5 L507.5,385.5 L510.1,388.1 L512.8,386.1 L515.5,388.7 L518.2,387.0 L520.9,387.9 L523.5,388.5 L526.2,386.8 L528.8,388.5 L531.5,386.0 L534.1,387.6 L536.8,385.4 L539.4,386.6 L541.7,388.9 L544.0,388.8 L546.4,391.9 L548.7,392.5 L552.4,398.1 L553.5,435.0 L556.8,434.0 L560.0,436.0 L562.5,436.8 L565.0,434.4 L567.5,436.7 L570.0,435.0 L572.5,433.8 L575.0,436.8 L577.5,434.8 L580.0,436.0 L582.5,436.9 L585.0,434.2 L587.5,436.7 L590.0,434.2 L592.5,435.9 L595.0,434.0 L597.5,435.9 L600.0,434.5 L602.3,433.2 L604.7,434.3 L607.0,433.5 L609.0,430.3 L611.0,429.0 L613.6,430.5 L616.3,427.8 L618.9,430.5 L621.5,427.8 L624.2,430.3 L626.8,428.0 L629.5,430.2 L632.1,428.7 L634.7,430.3 L637.4,428.6 L640.0,429.5 L642.7,431.0 L645.4,428.5 L648.1,430.8 L650.8,428.7 L653.5,430.5 L656.2,428.9 L658.8,431.2 L661.5,429.2 L664.2,431.0 L666.9,429.3 L669.6,431.2 L672.3,429.2 L675.0,430.5 L677.5,432.8 L680.0,433.8 L682.5,431.5 L685.0,430.5 L687.6,431.3 L690.2,429.3 L692.9,431.7 L695.5,429.3 L698.1,431.9 L700.8,429.5 L703.4,431.0 L706.0,429.4 L708.6,431.3 L711.2,429.7 L713.9,431.5 L716.5,429.5 L719.1,431.1 L721.8,429.5 L724.4,431.8 L727.0,429.8 L729.6,431.2 L732.2,429.5 L734.9,431.0 L737.5,429.3 L740.1,431.0 L742.8,428.8 L745.4,431.2 L748.0,429.0 L750.6,430.9 L753.2,429.2 L755.9,431.3 L758.5,428.8 L761.1,430.9 L763.8,429.2 L766.4,431.5 L769.0,428.8 L771.6,430.8 L774.2,429.0 L776.9,431.3 L779.5,429.1 L782.1,431.2 L784.8,428.9 L787.4,431.5 L790.0,430.0 L792.5,430.9 L795.0,434.0 L797.6,435.3 L800.1,433.3 L802.7,435.5 L805.3,433.4 L807.9,435.4 L810.4,433.6 L813.0,434.5 L815.3,433.6 L817.7,430.6 L820.0,429.5 L822.6,430.3 L825.2,428.5 L827.8,430.3 L830.4,429.0 L833.0,430.9 L835.6,428.8 L838.2,431.1 L840.8,428.5 L843.4,430.6 L846.0,428.3 L848.6,431.1 L851.2,428.9 L853.8,430.4 L856.3,428.6 L858.9,431.1 L861.5,428.7 L864.1,431.1 L866.7,428.9 L869.3,431.0 L871.9,429.1 L874.5,430.8 L877.1,429.0 L879.7,430.8 L882.3,429.0 L884.9,431.3 L887.5,429.3 L890.1,430.7 L892.7,429.3 L895.3,431.5 L897.9,429.0 L900.5,430.7 L903.1,428.8 L905.7,431.5 L908.3,428.8 L910.9,431.0 L913.5,429.0 L916.1,431.0 L918.7,429.6 L921.2,431.6 L923.8,428.9 L926.4,431.0 L929.0,428.9 L931.6,430.9 L934.2,429.5 L936.8,430.9 L939.4,429.7 L942.0,431.1 L944.6,429.2 L947.2,431.3 L949.8,429.8 L952.4,431.2 L955.0,430.5 L957.0,438.5 L960.0,435.0 L962.3,432.6 L964.7,432.9 L967.0,430.0 L969.7,428.9 L972.3,430.6 L975.0,430.0 L977.5,430.8 L980.0,434.0 L982.5,435.0 L985.0,433.0 L987.5,435.0 L990.0,432.8 L992.5,435.3 L995.0,433.0 L997.5,435.1 L1000.0,434.0 L1003.0,430.0 L1005.6,429.0 L1008.2,431.1 L1010.8,429.1 L1013.4,430.9 L1016.0,429.0 L1018.6,431.2 L1021.2,429.2 L1023.8,431.4 L1026.3,429.0 L1028.9,431.4 L1031.5,428.8 L1034.1,431.5 L1036.7,428.8 L1039.3,430.9 L1041.9,429.1 L1044.5,431.1 L1047.1,428.7 L1049.7,431.3 L1052.3,429.3 L1054.9,430.6 L1057.5,429.4 L1060.1,430.6 L1062.7,429.4 L1065.2,430.5 L1067.8,429.2 L1070.4,430.6 L1073.0,428.8 L1075.6,431.1 L1078.2,428.5 L1080.8,431.5 L1083.4,428.7 L1086.0,430.0" fill="none" stroke="#5179e0" stroke-width="1.5" stroke-linejoin="round"/>
<line x1="1162" y1="161.5" x2="2184" y2="161.5" stroke="rgba(204,204,220,0.09)"/>
<text x="1157.70" y="164.40" font-size="10.23" fill="#c7c8d2" stroke="#c7c8d2" stroke-width="0.28" text-anchor="end" font-weight="normal"  textLength="36.08" lengthAdjust="spacingAndGlyphs">100 p/s</text>
<line x1="1162" y1="198.5" x2="2184" y2="198.5" stroke="rgba(204,204,220,0.09)"/>
<text x="1157.70" y="201.40" font-size="10.23" fill="#c7c8d2" stroke="#c7c8d2" stroke-width="0.28" text-anchor="end" font-weight="normal"  textLength="29.97" lengthAdjust="spacingAndGlyphs">80 p/s</text>
<line x1="1162" y1="236.5" x2="2184" y2="236.5" stroke="rgba(204,204,220,0.09)"/>
<text x="1157.70" y="239.40" font-size="10.23" fill="#c7c8d2" stroke="#c7c8d2" stroke-width="0.28" text-anchor="end" font-weight="normal"  textLength="29.97" lengthAdjust="spacingAndGlyphs">60 p/s</text>
<line x1="1162" y1="273.5" x2="2184" y2="273.5" stroke="rgba(204,204,220,0.09)"/>
<text x="1157.70" y="276.40" font-size="10.23" fill="#c7c8d2" stroke="#c7c8d2" stroke-width="0.28" text-anchor="end" font-weight="normal"  textLength="29.97" lengthAdjust="spacingAndGlyphs">40 p/s</text>
<line x1="1162" y1="311.5" x2="2184" y2="311.5" stroke="rgba(204,204,220,0.09)"/>
<text x="1157.70" y="314.40" font-size="10.23" fill="#c7c8d2" stroke="#c7c8d2" stroke-width="0.28" text-anchor="end" font-weight="normal"  textLength="29.97" lengthAdjust="spacingAndGlyphs">20 p/s</text>
<line x1="1162" y1="348.5" x2="2184" y2="348.5" stroke="rgba(204,204,220,0.09)"/>
<text x="1157.70" y="351.40" font-size="10.23" fill="#c7c8d2" stroke="#c7c8d2" stroke-width="0.28" text-anchor="end" font-weight="normal"  textLength="23.85" lengthAdjust="spacingAndGlyphs">0 p/s</text>
<line x1="1162" y1="386.5" x2="2184" y2="386.5" stroke="rgba(204,204,220,0.09)"/>
<text x="1157.70" y="389.40" font-size="10.23" fill="#c7c8d2" stroke="#c7c8d2" stroke-width="0.28" text-anchor="end" font-weight="normal"  textLength="33.63" lengthAdjust="spacingAndGlyphs">-20 p/s</text>
<line x1="1162" y1="423.5" x2="2184" y2="423.5" stroke="rgba(204,204,220,0.09)"/>
<text x="1157.70" y="426.40" font-size="10.23" fill="#c7c8d2" stroke="#c7c8d2" stroke-width="0.28" text-anchor="end" font-weight="normal"  textLength="33.63" lengthAdjust="spacingAndGlyphs">-40 p/s</text>
<line x1="1162" y1="461.5" x2="2184" y2="461.5" stroke="rgba(204,204,220,0.09)"/>
<text x="1157.70" y="464.40" font-size="10.23" fill="#c7c8d2" stroke="#c7c8d2" stroke-width="0.28" text-anchor="end" font-weight="normal"  textLength="33.63" lengthAdjust="spacingAndGlyphs">-60 p/s</text>
<line x1="1162" y1="498.5" x2="2184" y2="498.5" stroke="rgba(204,204,220,0.09)"/>
<text x="1157.70" y="501.40" font-size="10.23" fill="#c7c8d2" stroke="#c7c8d2" stroke-width="0.28" text-anchor="end" font-weight="normal"  textLength="33.63" lengthAdjust="spacingAndGlyphs">-80 p/s</text>
<line x1="1162" y1="536.5" x2="2184" y2="536.5" stroke="rgba(204,204,220,0.09)"/>
<text x="1157.70" y="539.40" font-size="10.23" fill="#c7c8d2" stroke="#c7c8d2" stroke-width="0.28" text-anchor="end" font-weight="normal"  textLength="39.75" lengthAdjust="spacingAndGlyphs">-100 p/s</text>
<line x1="1254.6" y1="161" x2="1254.6" y2="539" stroke="rgba(204,204,220,0.09)"/>
<text x="1254.60" y="551.20" font-size="10.17" fill="#c7c8d2" stroke="#c7c8d2" stroke-width="0.28" text-anchor="middle" font-weight="normal"  textLength="59.69" lengthAdjust="spacingAndGlyphs">08/06 00:00</text>
<line x1="1400.5" y1="161" x2="1400.5" y2="539" stroke="rgba(204,204,220,0.09)"/>
<text x="1400.50" y="551.20" font-size="10.17" fill="#c7c8d2" stroke="#c7c8d2" stroke-width="0.28" text-anchor="middle" font-weight="normal"  textLength="59.69" lengthAdjust="spacingAndGlyphs">08/07 00:00</text>
<line x1="1546.4" y1="161" x2="1546.4" y2="539" stroke="rgba(204,204,220,0.09)"/>
<text x="1546.40" y="551.20" font-size="10.17" fill="#c7c8d2" stroke="#c7c8d2" stroke-width="0.28" text-anchor="middle" font-weight="normal"  textLength="59.69" lengthAdjust="spacingAndGlyphs">08/08 00:00</text>
<line x1="1692.3" y1="161" x2="1692.3" y2="539" stroke="rgba(204,204,220,0.09)"/>
<text x="1692.30" y="551.20" font-size="10.17" fill="#c7c8d2" stroke="#c7c8d2" stroke-width="0.28" text-anchor="middle" font-weight="normal"  textLength="59.69" lengthAdjust="spacingAndGlyphs">08/09 00:00</text>
<line x1="1838.2" y1="161" x2="1838.2" y2="539" stroke="rgba(204,204,220,0.09)"/>
<text x="1838.20" y="551.20" font-size="10.17" fill="#c7c8d2" stroke="#c7c8d2" stroke-width="0.28" text-anchor="middle" font-weight="normal"  textLength="59.69" lengthAdjust="spacingAndGlyphs">08/10 00:00</text>
<line x1="1984.1" y1="161" x2="1984.1" y2="539" stroke="rgba(204,204,220,0.09)"/>
<text x="1984.10" y="551.20" font-size="10.17" fill="#c7c8d2" stroke="#c7c8d2" stroke-width="0.28" text-anchor="middle" font-weight="normal"  textLength="58.86" lengthAdjust="spacingAndGlyphs">08/11 00:00</text>
<line x1="2130.0" y1="161" x2="2130.0" y2="539" stroke="rgba(204,204,220,0.09)"/>
<text x="2130.00" y="551.20" font-size="10.17" fill="#c7c8d2" stroke="#c7c8d2" stroke-width="0.28" text-anchor="middle" font-weight="normal"  textLength="59.69" lengthAdjust="spacingAndGlyphs">08/12 00:00</text>
<line x1="1199.4" y1="349.5" x2="2184" y2="349.5" stroke="#c9443c" stroke-width="2"/>
<line x1="77" y1="678.5" x2="1086.4" y2="678.5" stroke="rgba(204,204,220,0.09)"/>
<text x="71.20" y="681.40" font-size="10.23" fill="#c7c8d2" stroke="#c7c8d2" stroke-width="0.28" text-anchor="end" font-weight="normal"  textLength="47.08" lengthAdjust="spacingAndGlyphs">320 KiB/s</text>
<line x1="77" y1="709.5" x2="1086.4" y2="709.5" stroke="rgba(204,204,220,0.09)"/>
<text x="71.20" y="712.40" font-size="10.23" fill="#c7c8d2" stroke="#c7c8d2" stroke-width="0.28" text-anchor="end" font-weight="normal"  textLength="47.08" lengthAdjust="spacingAndGlyphs">256 KiB/s</text>
<line x1="77" y1="741.5" x2="1086.4" y2="741.5" stroke="rgba(204,204,220,0.09)"/>
<text x="71.20" y="744.40" font-size="10.23" fill="#c7c8d2" stroke="#c7c8d2" stroke-width="0.28" text-anchor="end" font-weight="normal"  textLength="47.08" lengthAdjust="spacingAndGlyphs">192 KiB/s</text>
<line x1="77" y1="772.5" x2="1086.4" y2="772.5" stroke="rgba(204,204,220,0.09)"/>
<text x="71.20" y="775.40" font-size="10.23" fill="#c7c8d2" stroke="#c7c8d2" stroke-width="0.28" text-anchor="end" font-weight="normal"  textLength="47.08" lengthAdjust="spacingAndGlyphs">128 KiB/s</text>
<line x1="77" y1="804.5" x2="1086.4" y2="804.5" stroke="rgba(204,204,220,0.09)"/>
<text x="71.20" y="807.40" font-size="10.23" fill="#c7c8d2" stroke="#c7c8d2" stroke-width="0.28" text-anchor="end" font-weight="normal"  textLength="40.97" lengthAdjust="spacingAndGlyphs">64 KiB/s</text>
<line x1="77" y1="835.5" x2="1086.4" y2="835.5" stroke="rgba(204,204,220,0.09)"/>
<text x="71.20" y="838.40" font-size="10.23" fill="#c7c8d2" stroke="#c7c8d2" stroke-width="0.28" text-anchor="end" font-weight="normal"  textLength="25.07" lengthAdjust="spacingAndGlyphs">0 B/s</text>
<line x1="77" y1="866.5" x2="1086.4" y2="866.5" stroke="rgba(204,204,220,0.09)"/>
<text x="71.20" y="869.40" font-size="10.23" fill="#c7c8d2" stroke="#c7c8d2" stroke-width="0.28" text-anchor="end" font-weight="normal"  textLength="44.63" lengthAdjust="spacingAndGlyphs">-64 KiB/s</text>
<line x1="77" y1="898.5" x2="1086.4" y2="898.5" stroke="rgba(204,204,220,0.09)"/>
<text x="71.20" y="901.40" font-size="10.23" fill="#c7c8d2" stroke="#c7c8d2" stroke-width="0.28" text-anchor="end" font-weight="normal"  textLength="50.75" lengthAdjust="spacingAndGlyphs">-128 KiB/s</text>
<line x1="77" y1="929.5" x2="1086.4" y2="929.5" stroke="rgba(204,204,220,0.09)"/>
<text x="71.20" y="932.40" font-size="10.23" fill="#c7c8d2" stroke="#c7c8d2" stroke-width="0.28" text-anchor="end" font-weight="normal"  textLength="50.75" lengthAdjust="spacingAndGlyphs">-192 KiB/s</text>
<line x1="77" y1="961.5" x2="1086.4" y2="961.5" stroke="rgba(204,204,220,0.09)"/>
<text x="71.20" y="964.40" font-size="10.23" fill="#c7c8d2" stroke="#c7c8d2" stroke-width="0.28" text-anchor="end" font-weight="normal"  textLength="50.75" lengthAdjust="spacingAndGlyphs">-256 KiB/s</text>
<line x1="77" y1="992.5" x2="1086.4" y2="992.5" stroke="rgba(204,204,220,0.09)"/>
<text x="71.20" y="995.40" font-size="10.23" fill="#c7c8d2" stroke="#c7c8d2" stroke-width="0.28" text-anchor="end" font-weight="normal"  textLength="50.75" lengthAdjust="spacingAndGlyphs">-320 KiB/s</text>
<line x1="167.4" y1="668" x2="167.4" y2="1006" stroke="rgba(204,204,220,0.09)"/>
<text x="167.40" y="1018.00" font-size="10.17" fill="#c7c8d2" stroke="#c7c8d2" stroke-width="0.28" text-anchor="middle" font-weight="normal"  textLength="59.69" lengthAdjust="spacingAndGlyphs">08/06 00:00</text>
<line x1="311.7" y1="668" x2="311.7" y2="1006" stroke="rgba(204,204,220,0.09)"/>
<text x="311.70" y="1018.00" font-size="10.17" fill="#c7c8d2" stroke="#c7c8d2" stroke-width="0.28" text-anchor="middle" font-weight="normal"  textLength="59.69" lengthAdjust="spacingAndGlyphs">08/07 00:00</text>
<line x1="456.0" y1="668" x2="456.0" y2="1006" stroke="rgba(204,204,220,0.09)"/>
<text x="456.00" y="1018.00" font-size="10.17" fill="#c7c8d2" stroke="#c7c8d2" stroke-width="0.28" text-anchor="middle" font-weight="normal"  textLength="59.69" lengthAdjust="spacingAndGlyphs">08/08 00:00</text>
<line x1="600.3" y1="668" x2="600.3" y2="1006" stroke="rgba(204,204,220,0.09)"/>
<text x="600.30" y="1018.00" font-size="10.17" fill="#c7c8d2" stroke="#c7c8d2" stroke-width="0.28" text-anchor="middle" font-weight="normal"  textLength="59.69" lengthAdjust="spacingAndGlyphs">08/09 00:00</text>
<line x1="744.6" y1="668" x2="744.6" y2="1006" stroke="rgba(204,204,220,0.09)"/>
<text x="744.60" y="1018.00" font-size="10.17" fill="#c7c8d2" stroke="#c7c8d2" stroke-width="0.28" text-anchor="middle" font-weight="normal"  textLength="59.69" lengthAdjust="spacingAndGlyphs">08/10 00:00</text>
<line x1="888.9" y1="668" x2="888.9" y2="1006" stroke="rgba(204,204,220,0.09)"/>
<text x="888.90" y="1018.00" font-size="10.17" fill="#c7c8d2" stroke="#c7c8d2" stroke-width="0.28" text-anchor="middle" font-weight="normal"  textLength="58.86" lengthAdjust="spacingAndGlyphs">08/11 00:00</text>
<line x1="1033.2" y1="668" x2="1033.2" y2="1006" stroke="rgba(204,204,220,0.09)"/>
<text x="1033.20" y="1018.00" font-size="10.17" fill="#c7c8d2" stroke="#c7c8d2" stroke-width="0.28" text-anchor="middle" font-weight="normal"  textLength="59.69" lengthAdjust="spacingAndGlyphs">08/12 00:00</text>
<path d="M112.7,787.7 L114.6,765.4 L117.2,766.5 L119.8,764.1 L122.4,767.4 L125.0,766.0 L127.5,763.9 L130.0,765.5 L132.5,762.0 L135.0,763.0 L137.5,766.0 L140.0,764.1 L142.5,768.1 L145.0,768.0 L147.5,767.2 L150.0,768.5 L153.0,771.0 L155.6,784.7 L158.3,785.5 L161.0,783.7 L163.7,786.4 L166.4,784.3 L169.2,786.9 L171.9,784.2 L174.6,786.3 L177.3,784.7 L180.0,785.5 L182.3,785.9 L184.7,781.0 L187.0,781.0 L189.5,782.2 L192.0,778.2 L194.5,779.1 L197.3,778.7 L200.1,775.7 L202.8,777.0 L205.6,774.5 L207.9,776.3 L210.3,781.5 L212.7,781.0 L215.0,784.7 L218.0,783.7 L221.0,779.2 L224.0,779.1 L226.8,779.1 L229.7,777.3 L232.5,775.1 L235.3,778.0 L238.1,774.9 L240.8,777.2 L243.6,774.4 L246.4,775.4 L248.7,777.2 L251.1,776.5 L253.4,779.9 L255.7,779.1 L258.5,781.8 L261.3,786.5 L263.6,786.2 L265.9,781.8 L268.2,782.8 L270.5,779.1 L273.1,775.8 L275.7,777.8 L278.3,773.0 L280.9,774.6 L283.5,771.7 L286.0,774.4 L288.5,781.2 L291.0,784.7 L293.5,782.5 L295.9,784.6 L298.4,780.9 L300.9,782.9 L303.3,778.2 L305.8,779.1 L308.6,783.1 L311.3,784.7 L314.0,784.0 L316.6,786.9 L319.3,784.8 L322.0,786.5 L324.7,788.6 L327.3,785.5 L330.0,787.5 L332.7,786.0 L335.3,788.6 L338.0,785.0 L340.7,788.4 L343.3,785.8 L346.0,788.7 L348.7,785.7 L351.3,788.4 L354.0,787.5 L356.6,784.5 L359.2,785.9 L361.8,781.5 L364.4,782.4 L367.0,780.0 L369.5,777.7 L372.0,778.4 L374.5,774.0 L377.0,774.5 L379.2,778.3 L381.4,778.7 L383.6,782.8 L386.1,782.7 L388.5,779.5 L391.0,779.1 L394.2,775.2 L397.5,769.8 L400.3,769.6 L403.1,774.6 L405.9,774.5 L408.4,771.4 L410.9,772.3 L413.5,767.3 L416.0,767.0 L418.2,770.5 L420.4,769.0 L422.6,772.6 L425.3,774.3 L428.0,773.5 L430.5,774.6 L433.1,781.6 L435.6,782.8 L438.4,781.1 L441.1,784.2 L443.9,780.8 L446.7,781.9 L449.1,784.6 L451.6,784.0 L454.0,786.5 L456.8,789.1 L459.6,787.2 L462.4,789.6 L465.2,787.9 L468.0,792.1 L470.8,791.2 L473.4,790.2 L476.0,793.7 L478.6,791.5 L481.2,793.7 L483.8,793.0 L486.4,791.1 L489.1,792.6 L491.7,789.7 L494.4,790.6 L497.0,787.9 L499.7,790.1 L502.3,787.4 L504.9,785.7 L507.6,789.6 L510.2,786.9 L512.9,789.5 L515.5,786.8 L518.2,790.4 L520.8,789.3 L523.5,787.9 L526.1,790.6 L528.8,789.1 L531.4,792.2 L534.1,788.9 L536.7,792.8 L539.4,791.2 L541.9,786.6 L544.3,786.2 L546.8,781.9 L550.5,779.1 L553.0,697.4 L555.5,733.5 L557.0,726.0 L559.5,726.5 L562.0,730.0 L564.0,730.9 L566.0,729.0 L568.0,731.9 L570.0,736.5 L572.5,737.1 L575.0,735.0 L577.5,730.7 L580.0,728.5 L582.3,729.8 L584.7,727.2 L587.0,727.5 L589.5,731.3 L592.0,732.0 L594.7,731.1 L597.3,734.7 L600.0,735.0 L602.3,734.0 L604.7,737.1 L607.0,736.0 L610.0,741.0 L612.6,739.2 L615.2,742.4 L617.8,739.9 L620.4,742.1 L623.0,739.0 L625.6,742.8 L628.2,740.0 L630.8,741.7 L633.4,740.0 L636.0,741.5 L638.6,739.5 L641.2,741.6 L643.8,738.9 L646.4,742.3 L649.0,739.8 L651.6,742.1 L654.2,739.5 L656.8,742.0 L659.4,739.6 L662.0,741.5 L664.6,739.6 L667.2,741.8 L669.8,738.9 L672.4,741.9 L675.0,740.5 L677.5,736.2 L680.0,733.5 L682.5,736.2 L685.0,733.9 L687.5,738.6 L690.0,738.0 L692.5,736.5 L695.0,739.2 L697.5,737.4 L700.0,739.0 L702.5,740.3 L705.0,738.3 L707.5,741.4 L710.0,741.0 L712.6,739.4 L715.2,742.0 L717.7,739.3 L720.3,742.0 L722.9,740.2 L725.5,742.1 L728.1,739.8 L730.6,742.7 L733.2,739.8 L735.8,742.2 L738.4,739.4 L741.0,742.7 L743.5,740.0 L746.1,742.3 L748.7,739.4 L751.3,742.4 L753.9,738.8 L756.5,741.8 L759.0,739.1 L761.6,742.1 L764.2,739.2 L766.8,741.4 L769.4,738.9 L771.9,742.6 L774.5,739.4 L777.1,741.7 L779.7,738.6 L782.3,741.4 L784.8,739.7 L787.4,741.3 L790.0,740.5 L792.5,737.0 L795.0,737.0 L797.5,737.2 L800.0,734.0 L802.4,733.0 L804.8,735.9 L807.2,733.9 L809.6,736.3 L812.0,735.0 L814.7,735.7 L817.3,740.4 L820.0,741.0 L822.6,739.8 L825.2,742.2 L827.8,740.0 L830.4,741.8 L833.0,739.7 L835.6,742.0 L838.2,739.4 L840.8,742.8 L843.4,739.4 L846.0,742.3 L848.6,740.0 L851.2,742.2 L853.8,739.7 L856.3,742.5 L858.9,739.0 L861.5,741.8 L864.1,739.7 L866.7,742.3 L869.3,739.4 L871.9,742.9 L874.5,739.3 L877.1,742.5 L879.7,739.3 L882.3,742.6 L884.9,739.2 L887.5,742.6 L890.1,739.4 L892.7,742.0 L895.3,739.1 L897.9,742.2 L900.5,739.5 L903.1,742.8 L905.7,739.0 L908.3,743.0 L910.9,740.3 L913.5,742.1 L916.1,739.9 L918.7,742.2 L921.2,740.1 L923.8,742.4 L926.4,740.2 L929.0,742.1 L931.6,739.1 L934.2,742.7 L936.8,739.7 L939.4,741.8 L942.0,739.1 L944.6,742.6 L947.2,740.0 L949.8,742.1 L952.4,739.5 L955.0,741.0 L957.0,728.0 L960.0,735.0 L963.0,732.0 L967.0,741.0 L969.7,742.6 L972.3,740.0 L975.0,741.0 L977.5,739.9 L980.0,735.0 L982.5,734.1 L985.0,736.5 L987.5,734.0 L990.0,736.9 L992.5,734.7 L995.0,737.5 L997.5,735.3 L1000.0,737.0 L1003.0,741.0 L1005.6,742.0 L1008.2,739.7 L1010.8,742.8 L1013.4,739.6 L1016.0,742.1 L1018.6,739.3 L1021.2,741.8 L1023.8,739.8 L1026.3,741.9 L1028.9,739.6 L1031.5,741.6 L1034.1,738.7 L1036.7,741.3 L1039.3,738.8 L1041.9,742.4 L1044.5,738.9 L1047.1,741.2 L1049.7,739.1 L1052.3,741.2 L1054.9,738.9 L1057.5,742.0 L1060.1,739.3 L1062.7,741.0 L1065.2,738.8 L1067.8,741.0 L1070.4,739.1 L1073.0,741.4 L1075.6,738.3 L1078.2,741.3 L1080.8,739.2 L1083.4,741.8 L1086.0,740.0 L1086.0,836.0 L112.7,836.0 Z" fill="rgba(200,214,255,0.08)"/>
<path d="M112.7,796.5 L114.6,781.7 L117.4,781.6 L120.2,781.6 L123.0,781.5 L126.0,787.0 L128.5,786.9 L131.0,786.8 L133.5,786.8 L136.0,786.7 L138.5,786.6 L141.0,786.5 L143.5,786.5 L146.0,786.5 L148.5,786.5 L151.0,786.5 L153.0,790.0 L156.0,812.4 L158.6,812.4 L161.2,812.4 L163.8,812.4 L166.4,812.4 L169.0,812.4 L171.6,812.4 L174.1,812.4 L176.7,812.4 L179.3,812.4 L181.9,812.4 L184.5,812.4 L187.1,812.4 L189.7,812.4 L192.3,812.4 L194.9,812.4 L197.5,812.4 L200.1,812.4 L202.7,812.4 L205.2,812.4 L207.8,812.4 L210.4,812.4 L213.0,812.4 L215.6,812.4 L218.2,812.4 L220.8,812.4 L223.4,812.4 L226.0,812.4 L228.6,812.4 L231.2,812.4 L233.8,812.4 L236.4,812.4 L238.9,812.4 L241.5,812.4 L244.1,812.4 L246.7,812.4 L249.3,812.4 L251.9,812.4 L254.5,812.4 L257.1,812.4 L259.7,812.4 L262.3,812.4 L264.9,812.4 L267.5,812.4 L270.1,812.4 L272.6,812.4 L275.2,812.4 L277.8,812.4 L280.4,812.4 L283.0,812.4 L285.6,812.4 L288.2,812.4 L290.8,812.4 L293.4,812.4 L296.0,812.4 L298.6,812.4 L301.2,812.4 L303.8,812.4 L306.3,812.4 L308.9,812.4 L311.5,812.4 L314.1,812.4 L316.7,812.4 L319.3,812.4 L321.9,812.4 L324.5,812.4 L327.1,812.4 L329.7,812.4 L332.3,812.4 L334.9,812.4 L337.4,812.4 L340.0,812.4 L342.6,812.4 L345.2,812.4 L347.8,812.4 L350.4,812.4 L353.0,812.4 L355.6,812.4 L358.2,812.4 L360.8,812.4 L363.4,812.4 L366.0,812.4 L368.6,812.4 L371.1,812.4 L373.7,812.4 L376.3,812.4 L378.9,812.4 L381.5,812.4 L384.1,812.4 L386.7,812.4 L389.3,812.4 L391.9,812.4 L394.5,812.4 L397.1,812.4 L399.7,812.4 L402.2,812.4 L404.8,812.4 L407.4,812.4 L410.0,812.4 L412.6,812.4 L415.2,812.4 L417.8,812.4 L420.4,812.4 L423.0,812.4 L425.6,812.4 L428.2,812.4 L430.8,812.4 L433.4,812.4 L435.9,812.4 L438.5,812.4 L441.1,812.4 L443.7,812.4 L446.3,812.4 L448.9,812.4 L451.5,812.4 L454.1,812.4 L456.7,812.4 L459.3,812.4 L461.9,812.4 L464.5,812.4 L467.1,812.4 L469.6,812.4 L472.2,812.4 L474.8,812.4 L477.4,812.4 L480.0,812.4 L482.6,812.4 L485.2,812.4 L487.8,812.4 L490.4,812.4 L493.0,812.4 L495.6,812.4 L498.2,812.4 L500.8,812.4 L503.3,812.4 L505.9,812.4 L508.5,812.4 L511.1,812.4 L513.7,812.4 L516.3,812.4 L518.9,812.4 L521.5,812.4 L524.1,812.4 L526.7,812.4 L529.3,812.4 L531.9,812.4 L534.4,812.4 L537.0,812.4 L539.6,812.4 L542.2,812.4 L544.8,812.4 L547.4,812.4 L550.0,812.4 L553.0,730.0 L555.5,787.2 L558.1,787.2 L560.7,787.2 L563.3,787.2 L565.9,787.2 L568.5,787.2 L571.1,787.2 L573.7,787.2 L576.3,787.2 L578.8,787.2 L581.4,787.2 L584.0,787.2 L586.6,787.2 L589.2,787.2 L591.8,787.1 L594.4,787.1 L597.0,787.1 L599.6,787.1 L602.2,787.1 L604.8,787.1 L607.4,787.1 L610.0,787.1 L612.6,787.1 L615.2,787.1 L617.8,787.1 L620.4,787.1 L623.0,787.1 L625.5,787.1 L628.1,787.1 L630.7,787.1 L633.3,787.1 L635.9,787.1 L638.5,787.1 L641.1,787.1 L643.7,787.1 L646.3,787.1 L648.9,787.1 L651.5,787.1 L654.1,787.1 L656.7,787.1 L659.3,787.0 L661.9,787.0 L664.5,787.0 L667.1,787.0 L669.7,787.0 L672.2,787.0 L674.8,787.0 L677.4,787.0 L680.0,787.0 L682.6,787.0 L685.2,787.0 L687.8,787.0 L690.4,787.0 L693.0,787.0 L695.0,786.5 L697.0,786.0 L700.0,753.4 L703.0,785.0 L705.6,785.0 L708.2,785.0 L710.8,785.0 L713.4,785.0 L716.0,785.0 L718.7,785.0 L721.3,785.0 L723.9,785.0 L726.5,785.0 L729.1,785.0 L731.7,785.0 L734.3,785.0 L736.9,785.0 L739.5,785.0 L742.1,785.0 L744.7,785.0 L747.4,785.0 L750.0,785.0 L752.6,785.0 L755.2,785.0 L757.8,785.0 L760.4,785.0 L763.0,785.0 L765.6,785.0 L768.2,785.0 L770.8,785.0 L773.4,785.0 L776.1,785.0 L778.7,785.0 L781.3,785.0 L783.9,785.0 L786.5,785.0 L789.1,785.0 L791.7,785.0 L794.3,785.0 L796.9,785.0 L799.5,785.0 L802.1,785.0 L804.8,785.0 L807.4,785.0 L810.0,785.0 L812.6,785.0 L815.2,785.0 L817.8,785.0 L820.4,785.0 L823.0,785.0 L825.6,785.0 L828.2,785.0 L830.8,785.0 L833.5,785.0 L836.1,785.0 L838.7,785.0 L841.3,785.0 L843.9,785.0 L846.5,785.0 L849.1,785.0 L851.7,785.0 L854.3,785.0 L856.9,785.0 L859.5,785.0 L862.2,785.0 L864.8,785.0 L867.4,785.0 L870.0,785.0 L872.6,785.0 L875.2,785.0 L877.8,785.0 L880.4,785.0 L883.0,785.0 L885.6,785.0 L888.2,785.0 L890.8,785.0 L893.5,785.0 L896.1,785.0 L898.7,785.0 L901.3,785.0 L903.9,785.0 L906.5,785.0 L909.1,785.0 L911.7,785.0 L914.3,785.0 L916.9,785.0 L919.5,785.0 L922.2,785.0 L924.8,785.0 L927.4,785.0 L930.0,785.0 L932.6,785.0 L935.2,785.0 L937.8,785.0 L940.4,785.0 L943.0,785.0 L945.6,785.0 L948.2,785.0 L950.9,785.0 L953.5,785.0 L956.1,785.0 L958.7,785.0 L961.3,785.0 L963.9,785.0 L966.5,785.0 L969.1,785.0 L971.7,785.0 L974.3,785.0 L976.9,785.0 L979.6,785.0 L982.2,785.0 L984.8,785.0 L987.4,785.0 L990.0,785.0 L992.6,785.0 L995.2,785.0 L997.8,785.0 L1000.4,785.0 L1003.0,785.0 L1005.6,785.0 L1008.3,785.0 L1010.9,785.0 L1013.5,785.0 L1016.1,785.0 L1018.7,785.0 L1021.3,785.0 L1023.9,785.0 L1026.5,785.0 L1029.1,785.0 L1031.7,785.0 L1034.3,785.0 L1037.0,785.0 L1039.6,785.0 L1042.2,785.0 L1044.8,785.0 L1047.4,785.0 L1050.0,785.0 L1053.0,783.5 L1055.5,783.6 L1058.1,783.7 L1060.6,783.7 L1063.2,783.8 L1065.7,783.9 L1068.2,784.0 L1070.8,784.0 L1073.3,784.1 L1075.8,784.2 L1078.4,784.3 L1080.9,784.3 L1083.5,784.4 L1086.0,784.5 L1086.0,836.0 L112.7,836.0 Z" fill="rgba(228,236,255,0.08)"/>
<path d="M112.7,878.4 L114.6,893.6 L117.4,893.6 L120.2,893.6 L123.0,893.6 L126.0,888.0 L128.7,888.0 L131.3,888.0 L134.0,888.0 L136.7,888.0 L139.3,888.0 L142.0,888.0 L144.7,888.0 L147.3,888.0 L150.0,888.0 L152.0,886.0 L154.7,862.0 L157.3,862.0 L159.9,862.0 L162.5,862.0 L165.1,862.0 L167.7,862.0 L170.3,862.0 L172.9,862.0 L175.5,862.0 L178.0,862.0 L180.6,862.0 L183.2,862.0 L185.8,862.0 L188.4,862.0 L191.0,862.0 L193.6,862.0 L196.2,862.0 L198.8,862.0 L201.4,862.0 L204.0,862.0 L206.6,862.0 L209.2,862.0 L211.8,862.0 L214.4,862.0 L217.0,862.0 L219.6,862.0 L222.1,862.0 L224.7,862.0 L227.3,862.0 L229.9,862.0 L232.5,862.0 L235.1,862.0 L237.7,862.0 L240.3,862.0 L242.9,862.0 L245.5,862.0 L248.1,862.0 L250.7,862.0 L253.3,862.0 L255.9,862.0 L258.5,862.0 L261.1,862.0 L263.7,862.0 L266.2,862.0 L268.8,862.0 L271.4,862.0 L274.0,862.0 L276.6,862.0 L279.2,862.0 L281.8,862.0 L284.4,862.0 L287.0,862.0 L289.6,862.0 L292.2,862.0 L294.8,862.0 L297.4,862.0 L300.0,862.0 L302.6,862.0 L305.2,862.0 L307.8,862.0 L310.3,862.0 L312.9,862.0 L315.5,862.0 L318.1,862.0 L320.7,862.0 L323.3,862.0 L325.9,862.0 L328.5,862.0 L331.1,862.0 L333.7,862.0 L336.3,862.0 L338.9,862.0 L341.5,862.0 L344.1,862.0 L346.7,862.0 L349.3,862.0 L351.9,862.0 L354.4,862.0 L357.0,862.0 L359.6,862.0 L362.2,862.0 L364.8,862.0 L367.4,862.0 L370.0,862.0 L372.6,862.0 L375.2,862.0 L377.8,862.0 L380.4,862.0 L383.0,862.0 L385.6,862.0 L388.2,862.0 L390.8,862.0 L393.4,862.0 L395.9,862.0 L398.5,862.0 L401.1,862.0 L403.7,862.0 L406.3,862.0 L408.9,862.0 L411.5,862.0 L414.1,862.0 L416.7,862.0 L419.3,862.0 L421.9,862.0 L424.5,862.0 L427.1,862.0 L429.7,862.0 L432.3,862.0 L434.9,862.0 L437.5,862.0 L440.0,862.0 L442.6,862.0 L445.2,862.0 L447.8,862.0 L450.4,862.0 L453.0,862.0 L455.6,862.0 L458.2,862.0 L460.8,862.0 L463.4,862.0 L466.0,862.0 L468.6,862.0 L471.2,862.0 L473.8,862.0 L476.4,862.0 L479.0,862.0 L481.6,862.0 L484.1,862.0 L486.7,862.0 L489.3,862.0 L491.9,862.0 L494.5,862.0 L497.1,862.0 L499.7,862.0 L502.3,862.0 L504.9,862.0 L507.5,862.0 L510.1,862.0 L512.7,862.0 L515.3,862.0 L517.9,862.0 L520.5,862.0 L523.1,862.0 L525.7,862.0 L528.2,862.0 L530.8,862.0 L533.4,862.0 L536.0,862.0 L538.6,862.0 L541.2,862.0 L543.8,862.0 L546.4,862.0 L549.0,862.0 L551.0,866.0 L553.5,887.0 L556.1,887.0 L558.7,887.0 L561.4,887.0 L564.0,887.0 L566.6,887.0 L569.2,887.0 L571.8,887.0 L574.5,887.0 L577.1,887.0 L579.7,887.0 L582.3,887.0 L584.9,887.0 L587.6,887.0 L590.2,887.0 L592.8,887.0 L595.4,887.0 L598.0,887.0 L600.7,887.0 L603.3,887.0 L605.9,887.0 L608.5,887.0 L611.1,887.0 L613.8,887.0 L616.4,887.0 L619.0,887.0 L621.6,887.0 L624.2,887.0 L626.9,887.0 L629.5,887.0 L632.1,887.0 L634.7,887.0 L637.4,887.0 L640.0,887.0 L642.6,887.0 L645.2,887.0 L647.8,887.0 L650.5,887.0 L653.1,887.0 L655.7,887.0 L658.3,887.0 L660.9,887.0 L663.6,887.0 L666.2,887.0 L668.8,887.0 L671.4,887.0 L674.0,887.0 L676.7,887.0 L679.3,887.0 L681.9,887.0 L684.5,887.0 L687.1,887.0 L689.8,887.0 L692.4,887.0 L695.0,887.0 L697.5,888.5 L700.0,890.0 L702.6,890.0 L705.2,890.0 L707.8,890.0 L710.4,890.0 L713.0,890.0 L715.6,890.0 L718.1,890.0 L720.7,890.0 L723.3,890.0 L725.9,890.0 L728.5,890.0 L731.1,890.0 L733.7,890.0 L736.3,890.0 L738.9,890.0 L741.5,890.0 L744.1,890.0 L746.7,890.0 L749.3,890.0 L751.9,890.0 L754.4,890.0 L757.0,890.0 L759.6,890.0 L762.2,890.0 L764.8,890.0 L767.4,890.0 L770.0,890.0 L772.6,890.0 L775.2,890.0 L777.8,890.0 L780.4,890.0 L783.0,890.0 L785.6,890.0 L788.1,890.0 L790.7,890.0 L793.3,890.0 L795.9,890.0 L798.5,890.0 L801.1,890.0 L803.7,890.0 L806.3,890.0 L808.9,890.0 L811.5,890.0 L814.1,890.0 L816.7,890.0 L819.3,890.0 L821.9,890.0 L824.4,890.0 L827.0,890.0 L829.6,890.0 L832.2,890.0 L834.8,890.0 L837.4,890.0 L840.0,890.0 L842.6,890.0 L845.2,890.0 L847.8,890.0 L850.4,890.0 L853.0,890.0 L855.6,890.0 L858.1,890.0 L860.7,890.0 L863.3,890.0 L865.9,890.0 L868.5,890.0 L871.1,890.0 L873.7,890.0 L876.3,890.0 L878.9,890.0 L881.5,890.0 L884.1,890.0 L886.7,890.0 L889.3,890.0 L891.9,890.0 L894.4,890.0 L897.0,890.0 L899.6,890.0 L902.2,890.0 L904.8,890.0 L907.4,890.0 L910.0,890.0 L912.6,890.0 L915.2,890.0 L917.8,890.0 L920.4,890.0 L923.0,890.0 L925.6,890.0 L928.1,890.0 L930.7,890.0 L933.3,890.0 L935.9,890.0 L938.5,890.0 L941.1,890.0 L943.7,890.0 L946.3,890.0 L948.9,890.0 L951.5,890.0 L954.1,890.0 L956.7,890.0 L959.3,890.0 L961.9,890.0 L964.4,890.0 L967.0,890.0 L969.6,890.0 L972.2,890.0 L974.8,890.0 L977.4,890.0 L980.0,890.0 L982.6,890.0 L985.2,890.0 L987.8,890.0 L990.4,890.0 L993.0,890.0 L995.6,890.0 L998.1,890.0 L1000.7,890.0 L1003.3,890.0 L1005.9,890.0 L1008.5,890.0 L1011.1,890.0 L1013.7,890.0 L1016.3,890.0 L1018.9,890.0 L1021.5,890.0 L1024.1,890.0 L1026.7,890.0 L1029.3,890.0 L1031.9,890.0 L1034.4,890.0 L1037.0,890.0 L1039.6,890.0 L1042.2,890.0 L1044.8,890.0 L1047.4,890.0 L1050.0,890.0 L1053.0,891.0 L1055.5,890.9 L1058.1,890.9 L1060.6,890.8 L1063.2,890.8 L1065.7,890.7 L1068.2,890.7 L1070.8,890.6 L1073.3,890.6 L1075.8,890.5 L1078.4,890.5 L1080.9,890.4 L1083.5,890.4 L1086.0,890.3 L1086.0,836.0 L112.7,836.0 Z" fill="rgba(81,121,224,0.08)"/>
<path d="M112.7,878.4 L114.6,906.6 L117.2,908.3 L119.7,904.9 L122.3,907.7 L124.9,904.9 L127.4,907.9 L130.0,907.0 L132.5,904.8 L135.0,906.6 L137.5,903.4 L140.0,905.4 L142.5,902.3 L145.0,904.9 L147.5,900.9 L150.0,902.0 L152.0,904.0 L155.6,884.8 L158.3,886.0 L161.0,882.8 L163.7,886.5 L166.4,883.6 L169.2,885.7 L171.9,882.3 L174.6,885.8 L177.3,882.8 L180.0,884.0 L182.3,886.5 L184.7,885.2 L187.0,888.5 L189.7,890.1 L192.3,888.4 L195.0,892.7 L197.6,890.8 L200.3,893.6 L202.9,892.2 L205.6,894.1 L208.3,890.9 L211.0,884.8 L213.6,884.0 L216.2,887.4 L218.8,884.0 L221.4,887.4 L224.0,886.7 L226.8,887.6 L229.7,892.2 L232.5,893.0 L235.3,891.4 L238.1,893.8 L240.8,890.5 L243.6,894.0 L246.4,892.2 L248.7,888.5 L251.1,890.3 L253.4,885.7 L255.7,884.8 L258.3,886.1 L260.9,882.2 L263.5,884.5 L266.1,882.0 L268.7,883.0 L272.4,888.5 L275.2,891.5 L277.9,891.8 L280.7,896.1 L283.5,896.9 L285.8,892.4 L288.1,892.8 L290.5,887.0 L292.8,884.8 L295.4,886.9 L298.0,884.3 L300.6,888.7 L303.2,886.4 L305.8,888.5 L308.6,886.8 L311.3,883.0 L313.8,881.2 L316.2,883.4 L318.6,880.5 L321.1,883.3 L323.6,880.2 L326.0,881.1 L328.7,882.8 L331.3,879.9 L334.0,882.4 L336.7,879.3 L339.4,882.1 L342.0,880.2 L344.7,881.1 L347.2,883.4 L349.7,881.5 L352.1,885.4 L354.6,883.4 L357.1,886.4 L359.6,885.3 L362.0,888.1 L364.5,886.6 L367.0,888.5 L369.5,890.9 L372.0,889.1 L374.5,892.7 L377.0,893.1 L379.2,889.2 L381.4,890.3 L383.6,886.7 L386.1,885.6 L388.5,889.3 L391.0,888.5 L394.2,891.7 L397.5,897.8 L400.1,899.4 L402.8,897.4 L405.4,900.0 L408.1,898.3 L410.7,900.9 L413.4,899.1 L416.0,900.6 L418.4,900.7 L420.9,895.4 L423.4,896.9 L425.8,892.9 L428.2,893.0 L430.7,888.8 L433.2,890.0 L435.6,886.7 L438.2,884.9 L440.9,887.2 L443.5,883.2 L446.1,885.6 L448.7,882.9 L451.4,885.2 L454.0,883.0 L456.8,881.0 L459.6,882.8 L462.4,879.0 L465.2,880.0 L468.0,877.0 L470.8,877.4 L473.3,878.2 L475.7,875.7 L478.2,879.2 L480.7,876.0 L483.1,879.3 L485.6,876.4 L488.1,878.7 L490.5,876.5 L493.0,877.4 L495.3,879.5 L497.6,878.4 L500.0,882.3 L502.3,883.0 L504.9,880.8 L507.6,883.9 L510.2,880.6 L512.9,882.7 L515.5,879.8 L518.2,883.1 L520.8,881.1 L523.5,879.9 L526.1,881.2 L528.8,879.0 L531.4,880.9 L534.1,878.3 L536.7,880.4 L539.4,878.3 L541.7,879.1 L544.0,884.1 L546.4,883.6 L548.7,886.7 L552.4,890.4 L553.5,939.0 L555.0,936.0 L557.5,941.1 L560.0,943.0 L562.5,937.7 L565.0,935.0 L567.5,936.7 L570.0,934.0 L572.5,937.4 L575.0,935.5 L577.5,935.9 L580.0,940.0 L582.5,942.5 L585.0,941.5 L587.5,938.5 L590.0,938.7 L592.5,935.0 L595.0,934.0 L597.5,934.6 L600.0,931.5 L602.5,934.3 L605.0,933.0 L607.5,928.9 L610.0,928.5 L612.6,929.5 L615.2,927.0 L617.8,929.6 L620.4,927.5 L623.0,930.3 L625.6,927.1 L628.2,930.6 L630.8,927.7 L633.4,929.7 L636.0,927.9 L638.6,929.7 L641.2,926.8 L643.8,930.2 L646.4,927.5 L649.0,929.9 L651.6,927.1 L654.2,930.4 L656.8,928.0 L659.4,929.6 L662.0,928.0 L664.6,930.7 L667.2,927.3 L669.8,930.0 L672.4,928.0 L675.0,929.0 L677.5,933.1 L680.0,935.0 L682.5,930.4 L685.0,929.0 L687.6,930.7 L690.2,928.0 L692.9,930.1 L695.5,928.0 L698.1,930.9 L700.8,927.6 L703.4,930.9 L706.0,928.0 L708.6,930.5 L711.2,927.6 L713.9,930.9 L716.5,927.8 L719.1,930.0 L721.8,927.2 L724.4,930.9 L727.0,927.6 L729.6,930.1 L732.2,928.2 L734.9,930.3 L737.5,927.1 L740.1,930.2 L742.8,927.7 L745.4,930.4 L748.0,928.0 L750.6,929.8 L753.2,927.6 L755.9,931.0 L758.5,927.2 L761.1,930.1 L763.8,927.3 L766.4,930.8 L769.0,927.5 L771.6,930.2 L774.2,928.0 L776.9,930.6 L779.5,927.4 L782.1,930.0 L784.8,928.1 L787.4,929.8 L790.0,929.0 L792.5,928.7 L795.0,932.0 L797.5,935.1 L800.0,934.5 L802.5,933.3 L805.0,936.2 L807.5,933.3 L810.0,935.0 L812.5,934.4 L815.0,930.6 L817.5,931.8 L820.0,929.0 L822.6,927.2 L825.2,929.9 L827.8,927.2 L830.4,929.8 L833.0,927.5 L835.6,930.8 L838.2,928.1 L840.8,930.3 L843.4,928.2 L846.0,930.3 L848.6,927.6 L851.2,930.8 L853.8,927.5 L856.3,930.7 L858.9,927.2 L861.5,930.6 L864.1,927.7 L866.7,929.7 L869.3,927.3 L871.9,929.7 L874.5,927.3 L877.1,929.7 L879.7,927.3 L882.3,930.5 L884.9,926.8 L887.5,929.7 L890.1,927.8 L892.7,930.0 L895.3,926.8 L897.9,929.7 L900.5,927.4 L903.1,929.9 L905.7,927.9 L908.3,930.1 L910.9,927.6 L913.5,930.0 L916.1,927.0 L918.7,930.2 L921.2,927.6 L923.8,930.2 L926.4,927.2 L929.0,930.3 L931.6,927.9 L934.2,929.6 L936.8,927.0 L939.4,930.0 L942.0,927.2 L944.6,929.9 L947.2,927.0 L949.8,930.2 L952.4,926.7 L955.0,928.5 L957.0,941.5 L960.0,937.0 L963.0,932.0 L965.4,933.0 L967.8,928.9 L970.2,931.6 L972.6,928.7 L975.0,929.0 L977.5,933.2 L980.0,935.0 L982.5,933.0 L985.0,936.4 L987.5,933.0 L990.0,935.2 L992.5,933.3 L995.0,934.0 L997.7,933.6 L1000.3,928.8 L1003.0,928.0 L1005.6,929.0 L1008.2,926.1 L1010.8,929.1 L1013.4,926.2 L1016.0,929.7 L1018.6,926.2 L1021.2,929.9 L1023.8,927.3 L1026.3,929.3 L1028.9,926.5 L1031.5,929.6 L1034.1,927.0 L1036.7,930.1 L1039.3,927.0 L1041.9,930.1 L1044.5,927.1 L1047.1,929.6 L1049.7,926.9 L1052.3,929.5 L1054.9,927.0 L1057.5,930.4 L1060.1,927.8 L1062.7,929.4 L1065.2,926.9 L1067.8,929.7 L1070.4,927.4 L1073.0,929.9 L1075.6,928.0 L1078.2,929.9 L1080.8,928.1 L1083.4,930.8 L1086.0,929.0 L1086.0,836.0 L112.7,836.0 Z" fill="rgba(61,99,194,0.08)"/>
<path d="M112.7,787.7 L114.6,765.4 L117.2,766.5 L119.8,764.1 L122.4,767.4 L125.0,766.0 L127.5,763.9 L130.0,765.5 L132.5,762.0 L135.0,763.0 L137.5,766.0 L140.0,764.1 L142.5,768.1 L145.0,768.0 L147.5,767.2 L150.0,768.5 L153.0,771.0 L155.6,784.7 L158.3,785.5 L161.0,783.7 L163.7,786.4 L166.4,784.3 L169.2,786.9 L171.9,784.2 L174.6,786.3 L177.3,784.7 L180.0,785.5 L182.3,785.9 L184.7,781.0 L187.0,781.0 L189.5,782.2 L192.0,778.2 L194.5,779.1 L197.3,778.7 L200.1,775.7 L202.8,777.0 L205.6,774.5 L207.9,776.3 L210.3,781.5 L212.7,781.0 L215.0,784.7 L218.0,783.7 L221.0,779.2 L224.0,779.1 L226.8,779.1 L229.7,777.3 L232.5,775.1 L235.3,778.0 L238.1,774.9 L240.8,777.2 L243.6,774.4 L246.4,775.4 L248.7,777.2 L251.1,776.5 L253.4,779.9 L255.7,779.1 L258.5,781.8 L261.3,786.5 L263.6,786.2 L265.9,781.8 L268.2,782.8 L270.5,779.1 L273.1,775.8 L275.7,777.8 L278.3,773.0 L280.9,774.6 L283.5,771.7 L286.0,774.4 L288.5,781.2 L291.0,784.7 L293.5,782.5 L295.9,784.6 L298.4,780.9 L300.9,782.9 L303.3,778.2 L305.8,779.1 L308.6,783.1 L311.3,784.7 L314.0,784.0 L316.6,786.9 L319.3,784.8 L322.0,786.5 L324.7,788.6 L327.3,785.5 L330.0,787.5 L332.7,786.0 L335.3,788.6 L338.0,785.0 L340.7,788.4 L343.3,785.8 L346.0,788.7 L348.7,785.7 L351.3,788.4 L354.0,787.5 L356.6,784.5 L359.2,785.9 L361.8,781.5 L364.4,782.4 L367.0,780.0 L369.5,777.7 L372.0,778.4 L374.5,774.0 L377.0,774.5 L379.2,778.3 L381.4,778.7 L383.6,782.8 L386.1,782.7 L388.5,779.5 L391.0,779.1 L394.2,775.2 L397.5,769.8 L400.3,769.6 L403.1,774.6 L405.9,774.5 L408.4,771.4 L410.9,772.3 L413.5,767.3 L416.0,767.0 L418.2,770.5 L420.4,769.0 L422.6,772.6 L425.3,774.3 L428.0,773.5 L430.5,774.6 L433.1,781.6 L435.6,782.8 L438.4,781.1 L441.1,784.2 L443.9,780.8 L446.7,781.9 L449.1,784.6 L451.6,784.0 L454.0,786.5 L456.8,789.1 L459.6,787.2 L462.4,789.6 L465.2,787.9 L468.0,792.1 L470.8,791.2 L473.4,790.2 L476.0,793.7 L478.6,791.5 L481.2,793.7 L483.8,793.0 L486.4,791.1 L489.1,792.6 L491.7,789.7 L494.4,790.6 L497.0,787.9 L499.7,790.1 L502.3,787.4 L504.9,785.7 L507.6,789.6 L510.2,786.9 L512.9,789.5 L515.5,786.8 L518.2,790.4 L520.8,789.3 L523.5,787.9 L526.1,790.6 L528.8,789.1 L531.4,792.2 L534.1,788.9 L536.7,792.8 L539.4,791.2 L541.9,786.6 L544.3,786.2 L546.8,781.9 L550.5,779.1 L553.0,697.4 L555.5,733.5 L557.0,726.0 L559.5,726.5 L562.0,730.0 L564.0,730.9 L566.0,729.0 L568.0,731.9 L570.0,736.5 L572.5,737.1 L575.0,735.0 L577.5,730.7 L580.0,728.5 L582.3,729.8 L584.7,727.2 L587.0,727.5 L589.5,731.3 L592.0,732.0 L594.7,731.1 L597.3,734.7 L600.0,735.0 L602.3,734.0 L604.7,737.1 L607.0,736.0 L610.0,741.0 L612.6,739.2 L615.2,742.4 L617.8,739.9 L620.4,742.1 L623.0,739.0 L625.6,742.8 L628.2,740.0 L630.8,741.7 L633.4,740.0 L636.0,741.5 L638.6,739.5 L641.2,741.6 L643.8,738.9 L646.4,742.3 L649.0,739.8 L651.6,742.1 L654.2,739.5 L656.8,742.0 L659.4,739.6 L662.0,741.5 L664.6,739.6 L667.2,741.8 L669.8,738.9 L672.4,741.9 L675.0,740.5 L677.5,736.2 L680.0,733.5 L682.5,736.2 L685.0,733.9 L687.5,738.6 L690.0,738.0 L692.5,736.5 L695.0,739.2 L697.5,737.4 L700.0,739.0 L702.5,740.3 L705.0,738.3 L707.5,741.4 L710.0,741.0 L712.6,739.4 L715.2,742.0 L717.7,739.3 L720.3,742.0 L722.9,740.2 L725.5,742.1 L728.1,739.8 L730.6,742.7 L733.2,739.8 L735.8,742.2 L738.4,739.4 L741.0,742.7 L743.5,740.0 L746.1,742.3 L748.7,739.4 L751.3,742.4 L753.9,738.8 L756.5,741.8 L759.0,739.1 L761.6,742.1 L764.2,739.2 L766.8,741.4 L769.4,738.9 L771.9,742.6 L774.5,739.4 L777.1,741.7 L779.7,738.6 L782.3,741.4 L784.8,739.7 L787.4,741.3 L790.0,740.5 L792.5,737.0 L795.0,737.0 L797.5,737.2 L800.0,734.0 L802.4,733.0 L804.8,735.9 L807.2,733.9 L809.6,736.3 L812.0,735.0 L814.7,735.7 L817.3,740.4 L820.0,741.0 L822.6,739.8 L825.2,742.2 L827.8,740.0 L830.4,741.8 L833.0,739.7 L835.6,742.0 L838.2,739.4 L840.8,742.8 L843.4,739.4 L846.0,742.3 L848.6,740.0 L851.2,742.2 L853.8,739.7 L856.3,742.5 L858.9,739.0 L861.5,741.8 L864.1,739.7 L866.7,742.3 L869.3,739.4 L871.9,742.9 L874.5,739.3 L877.1,742.5 L879.7,739.3 L882.3,742.6 L884.9,739.2 L887.5,742.6 L890.1,739.4 L892.7,742.0 L895.3,739.1 L897.9,742.2 L900.5,739.5 L903.1,742.8 L905.7,739.0 L908.3,743.0 L910.9,740.3 L913.5,742.1 L916.1,739.9 L918.7,742.2 L921.2,740.1 L923.8,742.4 L926.4,740.2 L929.0,742.1 L931.6,739.1 L934.2,742.7 L936.8,739.7 L939.4,741.8 L942.0,739.1 L944.6,742.6 L947.2,740.0 L949.8,742.1 L952.4,739.5 L955.0,741.0 L957.0,728.0 L960.0,735.0 L963.0,732.0 L967.0,741.0 L969.7,742.6 L972.3,740.0 L975.0,741.0 L977.5,739.9 L980.0,735.0 L982.5,734.1 L985.0,736.5 L987.5,734.0 L990.0,736.9 L992.5,734.7 L995.0,737.5 L997.5,735.3 L1000.0,737.0 L1003.0,741.0 L1005.6,742.0 L1008.2,739.7 L1010.8,742.8 L1013.4,739.6 L1016.0,742.1 L1018.6,739.3 L1021.2,741.8 L1023.8,739.8 L1026.3,741.9 L1028.9,739.6 L1031.5,741.6 L1034.1,738.7 L1036.7,741.3 L1039.3,738.8 L1041.9,742.4 L1044.5,738.9 L1047.1,741.2 L1049.7,739.1 L1052.3,741.2 L1054.9,738.9 L1057.5,742.0 L1060.1,739.3 L1062.7,741.0 L1065.2,738.8 L1067.8,741.0 L1070.4,739.1 L1073.0,741.4 L1075.6,738.3 L1078.2,741.3 L1080.8,739.2 L1083.4,741.8 L1086.0,740.0" fill="none" stroke="#c8d6ff" stroke-width="1.5" stroke-linejoin="round"/>
<path d="M112.7,796.5 L114.6,781.7 L117.4,781.6 L120.2,781.6 L123.0,781.5 L126.0,787.0 L128.5,786.9 L131.0,786.8 L133.5,786.8 L136.0,786.7 L138.5,786.6 L141.0,786.5 L143.5,786.5 L146.0,786.5 L148.5,786.5 L151.0,786.5 L153.0,790.0 L156.0,812.4 L158.6,812.4 L161.2,812.4 L163.8,812.4 L166.4,812.4 L169.0,812.4 L171.6,812.4 L174.1,812.4 L176.7,812.4 L179.3,812.4 L181.9,812.4 L184.5,812.4 L187.1,812.4 L189.7,812.4 L192.3,812.4 L194.9,812.4 L197.5,812.4 L200.1,812.4 L202.7,812.4 L205.2,812.4 L207.8,812.4 L210.4,812.4 L213.0,812.4 L215.6,812.4 L218.2,812.4 L220.8,812.4 L223.4,812.4 L226.0,812.4 L228.6,812.4 L231.2,812.4 L233.8,812.4 L236.4,812.4 L238.9,812.4 L241.5,812.4 L244.1,812.4 L246.7,812.4 L249.3,812.4 L251.9,812.4 L254.5,812.4 L257.1,812.4 L259.7,812.4 L262.3,812.4 L264.9,812.4 L267.5,812.4 L270.1,812.4 L272.6,812.4 L275.2,812.4 L277.8,812.4 L280.4,812.4 L283.0,812.4 L285.6,812.4 L288.2,812.4 L290.8,812.4 L293.4,812.4 L296.0,812.4 L298.6,812.4 L301.2,812.4 L303.8,812.4 L306.3,812.4 L308.9,812.4 L311.5,812.4 L314.1,812.4 L316.7,812.4 L319.3,812.4 L321.9,812.4 L324.5,812.4 L327.1,812.4 L329.7,812.4 L332.3,812.4 L334.9,812.4 L337.4,812.4 L340.0,812.4 L342.6,812.4 L345.2,812.4 L347.8,812.4 L350.4,812.4 L353.0,812.4 L355.6,812.4 L358.2,812.4 L360.8,812.4 L363.4,812.4 L366.0,812.4 L368.6,812.4 L371.1,812.4 L373.7,812.4 L376.3,812.4 L378.9,812.4 L381.5,812.4 L384.1,812.4 L386.7,812.4 L389.3,812.4 L391.9,812.4 L394.5,812.4 L397.1,812.4 L399.7,812.4 L402.2,812.4 L404.8,812.4 L407.4,812.4 L410.0,812.4 L412.6,812.4 L415.2,812.4 L417.8,812.4 L420.4,812.4 L423.0,812.4 L425.6,812.4 L428.2,812.4 L430.8,812.4 L433.4,812.4 L435.9,812.4 L438.5,812.4 L441.1,812.4 L443.7,812.4 L446.3,812.4 L448.9,812.4 L451.5,812.4 L454.1,812.4 L456.7,812.4 L459.3,812.4 L461.9,812.4 L464.5,812.4 L467.1,812.4 L469.6,812.4 L472.2,812.4 L474.8,812.4 L477.4,812.4 L480.0,812.4 L482.6,812.4 L485.2,812.4 L487.8,812.4 L490.4,812.4 L493.0,812.4 L495.6,812.4 L498.2,812.4 L500.8,812.4 L503.3,812.4 L505.9,812.4 L508.5,812.4 L511.1,812.4 L513.7,812.4 L516.3,812.4 L518.9,812.4 L521.5,812.4 L524.1,812.4 L526.7,812.4 L529.3,812.4 L531.9,812.4 L534.4,812.4 L537.0,812.4 L539.6,812.4 L542.2,812.4 L544.8,812.4 L547.4,812.4 L550.0,812.4 L553.0,730.0 L555.5,787.2 L558.1,787.2 L560.7,787.2 L563.3,787.2 L565.9,787.2 L568.5,787.2 L571.1,787.2 L573.7,787.2 L576.3,787.2 L578.8,787.2 L581.4,787.2 L584.0,787.2 L586.6,787.2 L589.2,787.2 L591.8,787.1 L594.4,787.1 L597.0,787.1 L599.6,787.1 L602.2,787.1 L604.8,787.1 L607.4,787.1 L610.0,787.1 L612.6,787.1 L615.2,787.1 L617.8,787.1 L620.4,787.1 L623.0,787.1 L625.5,787.1 L628.1,787.1 L630.7,787.1 L633.3,787.1 L635.9,787.1 L638.5,787.1 L641.1,787.1 L643.7,787.1 L646.3,787.1 L648.9,787.1 L651.5,787.1 L654.1,787.1 L656.7,787.1 L659.3,787.0 L661.9,787.0 L664.5,787.0 L667.1,787.0 L669.7,787.0 L672.2,787.0 L674.8,787.0 L677.4,787.0 L680.0,787.0 L682.6,787.0 L685.2,787.0 L687.8,787.0 L690.4,787.0 L693.0,787.0 L695.0,786.5 L697.0,786.0 L700.0,753.4 L703.0,785.0 L705.6,785.0 L708.2,785.0 L710.8,785.0 L713.4,785.0 L716.0,785.0 L718.7,785.0 L721.3,785.0 L723.9,785.0 L726.5,785.0 L729.1,785.0 L731.7,785.0 L734.3,785.0 L736.9,785.0 L739.5,785.0 L742.1,785.0 L744.7,785.0 L747.4,785.0 L750.0,785.0 L752.6,785.0 L755.2,785.0 L757.8,785.0 L760.4,785.0 L763.0,785.0 L765.6,785.0 L768.2,785.0 L770.8,785.0 L773.4,785.0 L776.1,785.0 L778.7,785.0 L781.3,785.0 L783.9,785.0 L786.5,785.0 L789.1,785.0 L791.7,785.0 L794.3,785.0 L796.9,785.0 L799.5,785.0 L802.1,785.0 L804.8,785.0 L807.4,785.0 L810.0,785.0 L812.6,785.0 L815.2,785.0 L817.8,785.0 L820.4,785.0 L823.0,785.0 L825.6,785.0 L828.2,785.0 L830.8,785.0 L833.5,785.0 L836.1,785.0 L838.7,785.0 L841.3,785.0 L843.9,785.0 L846.5,785.0 L849.1,785.0 L851.7,785.0 L854.3,785.0 L856.9,785.0 L859.5,785.0 L862.2,785.0 L864.8,785.0 L867.4,785.0 L870.0,785.0 L872.6,785.0 L875.2,785.0 L877.8,785.0 L880.4,785.0 L883.0,785.0 L885.6,785.0 L888.2,785.0 L890.8,785.0 L893.5,785.0 L896.1,785.0 L898.7,785.0 L901.3,785.0 L903.9,785.0 L906.5,785.0 L909.1,785.0 L911.7,785.0 L914.3,785.0 L916.9,785.0 L919.5,785.0 L922.2,785.0 L924.8,785.0 L927.4,785.0 L930.0,785.0 L932.6,785.0 L935.2,785.0 L937.8,785.0 L940.4,785.0 L943.0,785.0 L945.6,785.0 L948.2,785.0 L950.9,785.0 L953.5,785.0 L956.1,785.0 L958.7,785.0 L961.3,785.0 L963.9,785.0 L966.5,785.0 L969.1,785.0 L971.7,785.0 L974.3,785.0 L976.9,785.0 L979.6,785.0 L982.2,785.0 L984.8,785.0 L987.4,785.0 L990.0,785.0 L992.6,785.0 L995.2,785.0 L997.8,785.0 L1000.4,785.0 L1003.0,785.0 L1005.6,785.0 L1008.3,785.0 L1010.9,785.0 L1013.5,785.0 L1016.1,785.0 L1018.7,785.0 L1021.3,785.0 L1023.9,785.0 L1026.5,785.0 L1029.1,785.0 L1031.7,785.0 L1034.3,785.0 L1037.0,785.0 L1039.6,785.0 L1042.2,785.0 L1044.8,785.0 L1047.4,785.0 L1050.0,785.0 L1053.0,783.5 L1055.5,783.6 L1058.1,783.7 L1060.6,783.7 L1063.2,783.8 L1065.7,783.9 L1068.2,784.0 L1070.8,784.0 L1073.3,784.1 L1075.8,784.2 L1078.4,784.3 L1080.9,784.3 L1083.5,784.4 L1086.0,784.5" fill="none" stroke="#e4ecff" stroke-width="1.5" stroke-linejoin="round"/>
<path d="M112.7,878.4 L114.6,893.6 L117.4,893.6 L120.2,893.6 L123.0,893.6 L126.0,888.0 L128.7,888.0 L131.3,888.0 L134.0,888.0 L136.7,888.0 L139.3,888.0 L142.0,888.0 L144.7,888.0 L147.3,888.0 L150.0,888.0 L152.0,886.0 L154.7,862.0 L157.3,862.0 L159.9,862.0 L162.5,862.0 L165.1,862.0 L167.7,862.0 L170.3,862.0 L172.9,862.0 L175.5,862.0 L178.0,862.0 L180.6,862.0 L183.2,862.0 L185.8,862.0 L188.4,862.0 L191.0,862.0 L193.6,862.0 L196.2,862.0 L198.8,862.0 L201.4,862.0 L204.0,862.0 L206.6,862.0 L209.2,862.0 L211.8,862.0 L214.4,862.0 L217.0,862.0 L219.6,862.0 L222.1,862.0 L224.7,862.0 L227.3,862.0 L229.9,862.0 L232.5,862.0 L235.1,862.0 L237.7,862.0 L240.3,862.0 L242.9,862.0 L245.5,862.0 L248.1,862.0 L250.7,862.0 L253.3,862.0 L255.9,862.0 L258.5,862.0 L261.1,862.0 L263.7,862.0 L266.2,862.0 L268.8,862.0 L271.4,862.0 L274.0,862.0 L276.6,862.0 L279.2,862.0 L281.8,862.0 L284.4,862.0 L287.0,862.0 L289.6,862.0 L292.2,862.0 L294.8,862.0 L297.4,862.0 L300.0,862.0 L302.6,862.0 L305.2,862.0 L307.8,862.0 L310.3,862.0 L312.9,862.0 L315.5,862.0 L318.1,862.0 L320.7,862.0 L323.3,862.0 L325.9,862.0 L328.5,862.0 L331.1,862.0 L333.7,862.0 L336.3,862.0 L338.9,862.0 L341.5,862.0 L344.1,862.0 L346.7,862.0 L349.3,862.0 L351.9,862.0 L354.4,862.0 L357.0,862.0 L359.6,862.0 L362.2,862.0 L364.8,862.0 L367.4,862.0 L370.0,862.0 L372.6,862.0 L375.2,862.0 L377.8,862.0 L380.4,862.0 L383.0,862.0 L385.6,862.0 L388.2,862.0 L390.8,862.0 L393.4,862.0 L395.9,862.0 L398.5,862.0 L401.1,862.0 L403.7,862.0 L406.3,862.0 L408.9,862.0 L411.5,862.0 L414.1,862.0 L416.7,862.0 L419.3,862.0 L421.9,862.0 L424.5,862.0 L427.1,862.0 L429.7,862.0 L432.3,862.0 L434.9,862.0 L437.5,862.0 L440.0,862.0 L442.6,862.0 L445.2,862.0 L447.8,862.0 L450.4,862.0 L453.0,862.0 L455.6,862.0 L458.2,862.0 L460.8,862.0 L463.4,862.0 L466.0,862.0 L468.6,862.0 L471.2,862.0 L473.8,862.0 L476.4,862.0 L479.0,862.0 L481.6,862.0 L484.1,862.0 L486.7,862.0 L489.3,862.0 L491.9,862.0 L494.5,862.0 L497.1,862.0 L499.7,862.0 L502.3,862.0 L504.9,862.0 L507.5,862.0 L510.1,862.0 L512.7,862.0 L515.3,862.0 L517.9,862.0 L520.5,862.0 L523.1,862.0 L525.7,862.0 L528.2,862.0 L530.8,862.0 L533.4,862.0 L536.0,862.0 L538.6,862.0 L541.2,862.0 L543.8,862.0 L546.4,862.0 L549.0,862.0 L551.0,866.0 L553.5,887.0 L556.1,887.0 L558.7,887.0 L561.4,887.0 L564.0,887.0 L566.6,887.0 L569.2,887.0 L571.8,887.0 L574.5,887.0 L577.1,887.0 L579.7,887.0 L582.3,887.0 L584.9,887.0 L587.6,887.0 L590.2,887.0 L592.8,887.0 L595.4,887.0 L598.0,887.0 L600.7,887.0 L603.3,887.0 L605.9,887.0 L608.5,887.0 L611.1,887.0 L613.8,887.0 L616.4,887.0 L619.0,887.0 L621.6,887.0 L624.2,887.0 L626.9,887.0 L629.5,887.0 L632.1,887.0 L634.7,887.0 L637.4,887.0 L640.0,887.0 L642.6,887.0 L645.2,887.0 L647.8,887.0 L650.5,887.0 L653.1,887.0 L655.7,887.0 L658.3,887.0 L660.9,887.0 L663.6,887.0 L666.2,887.0 L668.8,887.0 L671.4,887.0 L674.0,887.0 L676.7,887.0 L679.3,887.0 L681.9,887.0 L684.5,887.0 L687.1,887.0 L689.8,887.0 L692.4,887.0 L695.0,887.0 L697.5,888.5 L700.0,890.0 L702.6,890.0 L705.2,890.0 L707.8,890.0 L710.4,890.0 L713.0,890.0 L715.6,890.0 L718.1,890.0 L720.7,890.0 L723.3,890.0 L725.9,890.0 L728.5,890.0 L731.1,890.0 L733.7,890.0 L736.3,890.0 L738.9,890.0 L741.5,890.0 L744.1,890.0 L746.7,890.0 L749.3,890.0 L751.9,890.0 L754.4,890.0 L757.0,890.0 L759.6,890.0 L762.2,890.0 L764.8,890.0 L767.4,890.0 L770.0,890.0 L772.6,890.0 L775.2,890.0 L777.8,890.0 L780.4,890.0 L783.0,890.0 L785.6,890.0 L788.1,890.0 L790.7,890.0 L793.3,890.0 L795.9,890.0 L798.5,890.0 L801.1,890.0 L803.7,890.0 L806.3,890.0 L808.9,890.0 L811.5,890.0 L814.1,890.0 L816.7,890.0 L819.3,890.0 L821.9,890.0 L824.4,890.0 L827.0,890.0 L829.6,890.0 L832.2,890.0 L834.8,890.0 L837.4,890.0 L840.0,890.0 L842.6,890.0 L845.2,890.0 L847.8,890.0 L850.4,890.0 L853.0,890.0 L855.6,890.0 L858.1,890.0 L860.7,890.0 L863.3,890.0 L865.9,890.0 L868.5,890.0 L871.1,890.0 L873.7,890.0 L876.3,890.0 L878.9,890.0 L881.5,890.0 L884.1,890.0 L886.7,890.0 L889.3,890.0 L891.9,890.0 L894.4,890.0 L897.0,890.0 L899.6,890.0 L902.2,890.0 L904.8,890.0 L907.4,890.0 L910.0,890.0 L912.6,890.0 L915.2,890.0 L917.8,890.0 L920.4,890.0 L923.0,890.0 L925.6,890.0 L928.1,890.0 L930.7,890.0 L933.3,890.0 L935.9,890.0 L938.5,890.0 L941.1,890.0 L943.7,890.0 L946.3,890.0 L948.9,890.0 L951.5,890.0 L954.1,890.0 L956.7,890.0 L959.3,890.0 L961.9,890.0 L964.4,890.0 L967.0,890.0 L969.6,890.0 L972.2,890.0 L974.8,890.0 L977.4,890.0 L980.0,890.0 L982.6,890.0 L985.2,890.0 L987.8,890.0 L990.4,890.0 L993.0,890.0 L995.6,890.0 L998.1,890.0 L1000.7,890.0 L1003.3,890.0 L1005.9,890.0 L1008.5,890.0 L1011.1,890.0 L1013.7,890.0 L1016.3,890.0 L1018.9,890.0 L1021.5,890.0 L1024.1,890.0 L1026.7,890.0 L1029.3,890.0 L1031.9,890.0 L1034.4,890.0 L1037.0,890.0 L1039.6,890.0 L1042.2,890.0 L1044.8,890.0 L1047.4,890.0 L1050.0,890.0 L1053.0,891.0 L1055.5,890.9 L1058.1,890.9 L1060.6,890.8 L1063.2,890.8 L1065.7,890.7 L1068.2,890.7 L1070.8,890.6 L1073.3,890.6 L1075.8,890.5 L1078.4,890.5 L1080.9,890.4 L1083.5,890.4 L1086.0,890.3" fill="none" stroke="#5179e0" stroke-width="1.5" stroke-linejoin="round"/>
<path d="M112.7,878.4 L114.6,906.6 L117.2,908.3 L119.7,904.9 L122.3,907.7 L124.9,904.9 L127.4,907.9 L130.0,907.0 L132.5,904.8 L135.0,906.6 L137.5,903.4 L140.0,905.4 L142.5,902.3 L145.0,904.9 L147.5,900.9 L150.0,902.0 L152.0,904.0 L155.6,884.8 L158.3,886.0 L161.0,882.8 L163.7,886.5 L166.4,883.6 L169.2,885.7 L171.9,882.3 L174.6,885.8 L177.3,882.8 L180.0,884.0 L182.3,886.5 L184.7,885.2 L187.0,888.5 L189.7,890.1 L192.3,888.4 L195.0,892.7 L197.6,890.8 L200.3,893.6 L202.9,892.2 L205.6,894.1 L208.3,890.9 L211.0,884.8 L213.6,884.0 L216.2,887.4 L218.8,884.0 L221.4,887.4 L224.0,886.7 L226.8,887.6 L229.7,892.2 L232.5,893.0 L235.3,891.4 L238.1,893.8 L240.8,890.5 L243.6,894.0 L246.4,892.2 L248.7,888.5 L251.1,890.3 L253.4,885.7 L255.7,884.8 L258.3,886.1 L260.9,882.2 L263.5,884.5 L266.1,882.0 L268.7,883.0 L272.4,888.5 L275.2,891.5 L277.9,891.8 L280.7,896.1 L283.5,896.9 L285.8,892.4 L288.1,892.8 L290.5,887.0 L292.8,884.8 L295.4,886.9 L298.0,884.3 L300.6,888.7 L303.2,886.4 L305.8,888.5 L308.6,886.8 L311.3,883.0 L313.8,881.2 L316.2,883.4 L318.6,880.5 L321.1,883.3 L323.6,880.2 L326.0,881.1 L328.7,882.8 L331.3,879.9 L334.0,882.4 L336.7,879.3 L339.4,882.1 L342.0,880.2 L344.7,881.1 L347.2,883.4 L349.7,881.5 L352.1,885.4 L354.6,883.4 L357.1,886.4 L359.6,885.3 L362.0,888.1 L364.5,886.6 L367.0,888.5 L369.5,890.9 L372.0,889.1 L374.5,892.7 L377.0,893.1 L379.2,889.2 L381.4,890.3 L383.6,886.7 L386.1,885.6 L388.5,889.3 L391.0,888.5 L394.2,891.7 L397.5,897.8 L400.1,899.4 L402.8,897.4 L405.4,900.0 L408.1,898.3 L410.7,900.9 L413.4,899.1 L416.0,900.6 L418.4,900.7 L420.9,895.4 L423.4,896.9 L425.8,892.9 L428.2,893.0 L430.7,888.8 L433.2,890.0 L435.6,886.7 L438.2,884.9 L440.9,887.2 L443.5,883.2 L446.1,885.6 L448.7,882.9 L451.4,885.2 L454.0,883.0 L456.8,881.0 L459.6,882.8 L462.4,879.0 L465.2,880.0 L468.0,877.0 L470.8,877.4 L473.3,878.2 L475.7,875.7 L478.2,879.2 L480.7,876.0 L483.1,879.3 L485.6,876.4 L488.1,878.7 L490.5,876.5 L493.0,877.4 L495.3,879.5 L497.6,878.4 L500.0,882.3 L502.3,883.0 L504.9,880.8 L507.6,883.9 L510.2,880.6 L512.9,882.7 L515.5,879.8 L518.2,883.1 L520.8,881.1 L523.5,879.9 L526.1,881.2 L528.8,879.0 L531.4,880.9 L534.1,878.3 L536.7,880.4 L539.4,878.3 L541.7,879.1 L544.0,884.1 L546.4,883.6 L548.7,886.7 L552.4,890.4 L553.5,939.0 L555.0,936.0 L557.5,941.1 L560.0,943.0 L562.5,937.7 L565.0,935.0 L567.5,936.7 L570.0,934.0 L572.5,937.4 L575.0,935.5 L577.5,935.9 L580.0,940.0 L582.5,942.5 L585.0,941.5 L587.5,938.5 L590.0,938.7 L592.5,935.0 L595.0,934.0 L597.5,934.6 L600.0,931.5 L602.5,934.3 L605.0,933.0 L607.5,928.9 L610.0,928.5 L612.6,929.5 L615.2,927.0 L617.8,929.6 L620.4,927.5 L623.0,930.3 L625.6,927.1 L628.2,930.6 L630.8,927.7 L633.4,929.7 L636.0,927.9 L638.6,929.7 L641.2,926.8 L643.8,930.2 L646.4,927.5 L649.0,929.9 L651.6,927.1 L654.2,930.4 L656.8,928.0 L659.4,929.6 L662.0,928.0 L664.6,930.7 L667.2,927.3 L669.8,930.0 L672.4,928.0 L675.0,929.0 L677.5,933.1 L680.0,935.0 L682.5,930.4 L685.0,929.0 L687.6,930.7 L690.2,928.0 L692.9,930.1 L695.5,928.0 L698.1,930.9 L700.8,927.6 L703.4,930.9 L706.0,928.0 L708.6,930.5 L711.2,927.6 L713.9,930.9 L716.5,927.8 L719.1,930.0 L721.8,927.2 L724.4,930.9 L727.0,927.6 L729.6,930.1 L732.2,928.2 L734.9,930.3 L737.5,927.1 L740.1,930.2 L742.8,927.7 L745.4,930.4 L748.0,928.0 L750.6,929.8 L753.2,927.6 L755.9,931.0 L758.5,927.2 L761.1,930.1 L763.8,927.3 L766.4,930.8 L769.0,927.5 L771.6,930.2 L774.2,928.0 L776.9,930.6 L779.5,927.4 L782.1,930.0 L784.8,928.1 L787.4,929.8 L790.0,929.0 L792.5,928.7 L795.0,932.0 L797.5,935.1 L800.0,934.5 L802.5,933.3 L805.0,936.2 L807.5,933.3 L810.0,935.0 L812.5,934.4 L815.0,930.6 L817.5,931.8 L820.0,929.0 L822.6,927.2 L825.2,929.9 L827.8,927.2 L830.4,929.8 L833.0,927.5 L835.6,930.8 L838.2,928.1 L840.8,930.3 L843.4,928.2 L846.0,930.3 L848.6,927.6 L851.2,930.8 L853.8,927.5 L856.3,930.7 L858.9,927.2 L861.5,930.6 L864.1,927.7 L866.7,929.7 L869.3,927.3 L871.9,929.7 L874.5,927.3 L877.1,929.7 L879.7,927.3 L882.3,930.5 L884.9,926.8 L887.5,929.7 L890.1,927.8 L892.7,930.0 L895.3,926.8 L897.9,929.7 L900.5,927.4 L903.1,929.9 L905.7,927.9 L908.3,930.1 L910.9,927.6 L913.5,930.0 L916.1,927.0 L918.7,930.2 L921.2,927.6 L923.8,930.2 L926.4,927.2 L929.0,930.3 L931.6,927.9 L934.2,929.6 L936.8,927.0 L939.4,930.0 L942.0,927.2 L944.6,929.9 L947.2,927.0 L949.8,930.2 L952.4,926.7 L955.0,928.5 L957.0,941.5 L960.0,937.0 L963.0,932.0 L965.4,933.0 L967.8,928.9 L970.2,931.6 L972.6,928.7 L975.0,929.0 L977.5,933.2 L980.0,935.0 L982.5,933.0 L985.0,936.4 L987.5,933.0 L990.0,935.2 L992.5,933.3 L995.0,934.0 L997.7,933.6 L1000.3,928.8 L1003.0,928.0 L1005.6,929.0 L1008.2,926.1 L1010.8,929.1 L1013.4,926.2 L1016.0,929.7 L1018.6,926.2 L1021.2,929.9 L1023.8,927.3 L1026.3,929.3 L1028.9,926.5 L1031.5,929.6 L1034.1,927.0 L1036.7,930.1 L1039.3,927.0 L1041.9,930.1 L1044.5,927.1 L1047.1,929.6 L1049.7,926.9 L1052.3,929.5 L1054.9,927.0 L1057.5,930.4 L1060.1,927.8 L1062.7,929.4 L1065.2,926.9 L1067.8,929.7 L1070.4,927.4 L1073.0,929.9 L1075.6,928.0 L1078.2,929.9 L1080.8,928.1 L1083.4,930.8 L1086.0,929.0" fill="none" stroke="#3d63c2" stroke-width="1.5" stroke-linejoin="round"/>
<line x1="1162" y1="668.5" x2="2184" y2="668.5" stroke="rgba(204,204,220,0.09)"/>
<text x="1157.70" y="671.40" font-size="10.23" fill="#c7c8d2" stroke="#c7c8d2" stroke-width="0.28" text-anchor="end" font-weight="normal"  textLength="36.08" lengthAdjust="spacingAndGlyphs">100 p/s</text>
<line x1="1162" y1="701.5" x2="2184" y2="701.5" stroke="rgba(204,204,220,0.09)"/>
<text x="1157.70" y="704.40" font-size="10.23" fill="#c7c8d2" stroke="#c7c8d2" stroke-width="0.28" text-anchor="end" font-weight="normal"  textLength="29.97" lengthAdjust="spacingAndGlyphs">80 p/s</text>
<line x1="1162" y1="735.5" x2="2184" y2="735.5" stroke="rgba(204,204,220,0.09)"/>
<text x="1157.70" y="738.40" font-size="10.23" fill="#c7c8d2" stroke="#c7c8d2" stroke-width="0.28" text-anchor="end" font-weight="normal"  textLength="29.97" lengthAdjust="spacingAndGlyphs">60 p/s</text>
<line x1="1162" y1="768.5" x2="2184" y2="768.5" stroke="rgba(204,204,220,0.09)"/>
<text x="1157.70" y="771.40" font-size="10.23" fill="#c7c8d2" stroke="#c7c8d2" stroke-width="0.28" text-anchor="end" font-weight="normal"  textLength="29.97" lengthAdjust="spacingAndGlyphs">40 p/s</text>
<line x1="1162" y1="802.5" x2="2184" y2="802.5" stroke="rgba(204,204,220,0.09)"/>
<text x="1157.70" y="805.40" font-size="10.23" fill="#c7c8d2" stroke="#c7c8d2" stroke-width="0.28" text-anchor="end" font-weight="normal"  textLength="29.97" lengthAdjust="spacingAndGlyphs">20 p/s</text>
<line x1="1162" y1="835.5" x2="2184" y2="835.5" stroke="rgba(204,204,220,0.09)"/>
<text x="1157.70" y="838.40" font-size="10.23" fill="#c7c8d2" stroke="#c7c8d2" stroke-width="0.28" text-anchor="end" font-weight="normal"  textLength="23.85" lengthAdjust="spacingAndGlyphs">0 p/s</text>
<line x1="1162" y1="869.5" x2="2184" y2="869.5" stroke="rgba(204,204,220,0.09)"/>
<text x="1157.70" y="872.40" font-size="10.23" fill="#c7c8d2" stroke="#c7c8d2" stroke-width="0.28" text-anchor="end" font-weight="normal"  textLength="33.63" lengthAdjust="spacingAndGlyphs">-20 p/s</text>
<line x1="1162" y1="902.5" x2="2184" y2="902.5" stroke="rgba(204,204,220,0.09)"/>
<text x="1157.70" y="905.40" font-size="10.23" fill="#c7c8d2" stroke="#c7c8d2" stroke-width="0.28" text-anchor="end" font-weight="normal"  textLength="33.63" lengthAdjust="spacingAndGlyphs">-40 p/s</text>
<line x1="1162" y1="935.5" x2="2184" y2="935.5" stroke="rgba(204,204,220,0.09)"/>
<text x="1157.70" y="938.40" font-size="10.23" fill="#c7c8d2" stroke="#c7c8d2" stroke-width="0.28" text-anchor="end" font-weight="normal"  textLength="33.63" lengthAdjust="spacingAndGlyphs">-60 p/s</text>
<line x1="1162" y1="969.5" x2="2184" y2="969.5" stroke="rgba(204,204,220,0.09)"/>
<text x="1157.70" y="972.40" font-size="10.23" fill="#c7c8d2" stroke="#c7c8d2" stroke-width="0.28" text-anchor="end" font-weight="normal"  textLength="33.63" lengthAdjust="spacingAndGlyphs">-80 p/s</text>
<line x1="1162" y1="1002.5" x2="2184" y2="1002.5" stroke="rgba(204,204,220,0.09)"/>
<text x="1157.70" y="1005.40" font-size="10.23" fill="#c7c8d2" stroke="#c7c8d2" stroke-width="0.28" text-anchor="end" font-weight="normal"  textLength="39.75" lengthAdjust="spacingAndGlyphs">-100 p/s</text>
<line x1="1254.6" y1="668" x2="1254.6" y2="1006" stroke="rgba(204,204,220,0.09)"/>
<text x="1254.60" y="1018.00" font-size="10.17" fill="#c7c8d2" stroke="#c7c8d2" stroke-width="0.28" text-anchor="middle" font-weight="normal"  textLength="59.69" lengthAdjust="spacingAndGlyphs">08/06 00:00</text>
<line x1="1400.5" y1="668" x2="1400.5" y2="1006" stroke="rgba(204,204,220,0.09)"/>
<text x="1400.50" y="1018.00" font-size="10.17" fill="#c7c8d2" stroke="#c7c8d2" stroke-width="0.28" text-anchor="middle" font-weight="normal"  textLength="59.69" lengthAdjust="spacingAndGlyphs">08/07 00:00</text>
<line x1="1546.4" y1="668" x2="1546.4" y2="1006" stroke="rgba(204,204,220,0.09)"/>
<text x="1546.40" y="1018.00" font-size="10.17" fill="#c7c8d2" stroke="#c7c8d2" stroke-width="0.28" text-anchor="middle" font-weight="normal"  textLength="59.69" lengthAdjust="spacingAndGlyphs">08/08 00:00</text>
<line x1="1692.3" y1="668" x2="1692.3" y2="1006" stroke="rgba(204,204,220,0.09)"/>
<text x="1692.30" y="1018.00" font-size="10.17" fill="#c7c8d2" stroke="#c7c8d2" stroke-width="0.28" text-anchor="middle" font-weight="normal"  textLength="59.69" lengthAdjust="spacingAndGlyphs">08/09 00:00</text>
<line x1="1838.2" y1="668" x2="1838.2" y2="1006" stroke="rgba(204,204,220,0.09)"/>
<text x="1838.20" y="1018.00" font-size="10.17" fill="#c7c8d2" stroke="#c7c8d2" stroke-width="0.28" text-anchor="middle" font-weight="normal"  textLength="59.69" lengthAdjust="spacingAndGlyphs">08/10 00:00</text>
<line x1="1984.1" y1="668" x2="1984.1" y2="1006" stroke="rgba(204,204,220,0.09)"/>
<text x="1984.10" y="1018.00" font-size="10.17" fill="#c7c8d2" stroke="#c7c8d2" stroke-width="0.28" text-anchor="middle" font-weight="normal"  textLength="58.86" lengthAdjust="spacingAndGlyphs">08/11 00:00</text>
<line x1="2130.0" y1="668" x2="2130.0" y2="1006" stroke="rgba(204,204,220,0.09)"/>
<text x="2130.00" y="1018.00" font-size="10.17" fill="#c7c8d2" stroke="#c7c8d2" stroke-width="0.28" text-anchor="middle" font-weight="normal"  textLength="59.69" lengthAdjust="spacingAndGlyphs">08/12 00:00</text>
<line x1="1199.4" y1="836.3" x2="2184" y2="836.3" stroke="#c9443c" stroke-width="2"/>
<text x="42.00" y="566.00" font-size="10.18" fill="#72a0f7" stroke="#72a0f7" stroke-width="0.42" text-anchor="start" font-weight="normal"  textLength="28.28" lengthAdjust="spacingAndGlyphs">Name</text>
<text x="934.20" y="566.00" font-size="10.27" fill="#72a0f7" stroke="#72a0f7" stroke-width="0.42" text-anchor="end" font-weight="normal"  textLength="17.24" lengthAdjust="spacingAndGlyphs">Min</text>
<text x="1015.30" y="566.00" font-size="10.18" fill="#72a0f7" stroke="#72a0f7" stroke-width="0.42" text-anchor="end" font-weight="normal"  textLength="33.00" lengthAdjust="spacingAndGlyphs">90th %</text>
<path d="M1018.1,562.0 L1020.3,564.2 L1022.5,562.0" fill="none" stroke="#72a0f7" stroke-width="1.1" stroke-linecap="round"/>
<text x="1075.80" y="566.00" font-size="10.27" fill="#72a0f7" stroke="#72a0f7" stroke-width="0.42" text-anchor="end" font-weight="normal"  textLength="20.21" lengthAdjust="spacingAndGlyphs">Max</text>
<line x1="17" y1="572.7" x2="1093" y2="572.7" stroke="rgba(204,204,220,0.10)"/>
<line x1="24.7" y1="582.6" x2="33.4" y2="582.6" stroke="#c8d6ff" stroke-width="3.1" stroke-linecap="round"/>
<text x="42.00" y="585.90" font-size="10.43" fill="#ccccdc" stroke="#ccccdc" stroke-width="0.28" text-anchor="start" font-weight="normal"  textLength="13.57" lengthAdjust="spacingAndGlyphs">Rx</text>
<text x="950.10" y="585.90" font-size="10.48" fill="#ccccdc" stroke="#ccccdc" stroke-width="0.28" text-anchor="end" font-weight="normal"  textLength="46.23" lengthAdjust="spacingAndGlyphs">135 KiB/s</text>
<text x="1023.80" y="585.90" font-size="10.48" fill="#ccccdc" stroke="#ccccdc" stroke-width="0.28" text-anchor="end" font-weight="normal"  textLength="46.23" lengthAdjust="spacingAndGlyphs">303 KiB/s</text>
<text x="1086.80" y="585.90" font-size="10.48" fill="#ccccdc" stroke="#ccccdc" stroke-width="0.28" text-anchor="end" font-weight="normal"  textLength="46.23" lengthAdjust="spacingAndGlyphs">495 KiB/s</text>
<line x1="17" y1="592.7" x2="1093" y2="592.7" stroke="rgba(204,204,220,0.10)"/>
<line x1="24.7" y1="602.5" x2="33.4" y2="602.5" stroke="#5179e0" stroke-width="3.1" stroke-linecap="round"/>
<text x="42.00" y="605.80" font-size="10.43" fill="#ccccdc" stroke="#ccccdc" stroke-width="0.28" text-anchor="start" font-weight="normal"  textLength="12.33" lengthAdjust="spacingAndGlyphs">Tx</text>
<text x="950.10" y="605.80" font-size="10.48" fill="#ccccdc" stroke="#ccccdc" stroke-width="0.28" text-anchor="end" font-weight="normal"  textLength="49.82" lengthAdjust="spacingAndGlyphs">-326 KiB/s</text>
<text x="1023.80" y="605.80" font-size="10.48" fill="#ccccdc" stroke="#ccccdc" stroke-width="0.28" text-anchor="end" font-weight="normal"  textLength="49.82" lengthAdjust="spacingAndGlyphs">-147 KiB/s</text>
<text x="1086.80" y="605.80" font-size="10.48" fill="#ccccdc" stroke="#ccccdc" stroke-width="0.28" text-anchor="end" font-weight="normal"  textLength="49.82" lengthAdjust="spacingAndGlyphs">-135 KiB/s</text>
<line x1="17" y1="612.6" x2="1093" y2="612.6" stroke="rgba(204,204,220,0.10)"/>
<text x="1140.00" y="566.00" font-size="10.18" fill="#72a0f7" stroke="#72a0f7" stroke-width="0.42" text-anchor="start" font-weight="normal"  textLength="28.28" lengthAdjust="spacingAndGlyphs">Name</text>
<text x="2057.70" y="566.00" font-size="10.27" fill="#72a0f7" stroke="#72a0f7" stroke-width="0.42" text-anchor="end" font-weight="normal"  textLength="17.24" lengthAdjust="spacingAndGlyphs">Min</text>
<text x="2124.30" y="566.00" font-size="10.18" fill="#72a0f7" stroke="#72a0f7" stroke-width="0.42" text-anchor="end" font-weight="normal"  textLength="33.00" lengthAdjust="spacingAndGlyphs">90th %</text>
<path d="M2127.1,562.0 L2129.3,564.2 L2131.5,562.0" fill="none" stroke="#72a0f7" stroke-width="1.1" stroke-linecap="round"/>
<text x="2184.30" y="566.00" font-size="10.27" fill="#72a0f7" stroke="#72a0f7" stroke-width="0.42" text-anchor="end" font-weight="normal"  textLength="20.21" lengthAdjust="spacingAndGlyphs">Max</text>
<line x1="1115" y1="572.7" x2="2191" y2="572.7" stroke="rgba(204,204,220,0.10)"/>
<line x1="1122.7" y1="582.6" x2="1131.4" y2="582.6" stroke="#f2a8b0" stroke-width="3.1" stroke-linecap="round"/>
<text x="1140.00" y="585.90" font-size="10.43" fill="#ccccdc" stroke="#ccccdc" stroke-width="0.28" text-anchor="start" font-weight="normal"  textLength="98.72" lengthAdjust="spacingAndGlyphs">Rx dropped packets</text>
<text x="2057.90" y="585.90" font-size="10.48" fill="#ccccdc" stroke="#ccccdc" stroke-width="0.28" text-anchor="end" font-weight="normal"  textLength="23.41" lengthAdjust="spacingAndGlyphs">0 p/s</text>
<text x="2132.30" y="585.90" font-size="10.48" fill="#ccccdc" stroke="#ccccdc" stroke-width="0.28" text-anchor="end" font-weight="normal"  textLength="23.41" lengthAdjust="spacingAndGlyphs">0 p/s</text>
<text x="2184.80" y="585.90" font-size="10.48" fill="#ccccdc" stroke="#ccccdc" stroke-width="0.28" text-anchor="end" font-weight="normal"  textLength="23.41" lengthAdjust="spacingAndGlyphs">0 p/s</text>
<line x1="1115" y1="592.7" x2="2191" y2="592.7" stroke="rgba(204,204,220,0.10)"/>
<line x1="1122.7" y1="602.5" x2="1131.4" y2="602.5" stroke="#d2463e" stroke-width="3.1" stroke-linecap="round"/>
<text x="1140.00" y="605.80" font-size="10.43" fill="#ccccdc" stroke="#ccccdc" stroke-width="0.28" text-anchor="start" font-weight="normal"  textLength="97.49" lengthAdjust="spacingAndGlyphs">Tx dropped packets</text>
<text x="2057.90" y="605.80" font-size="10.48" fill="#ccccdc" stroke="#ccccdc" stroke-width="0.28" text-anchor="end" font-weight="normal"  textLength="23.41" lengthAdjust="spacingAndGlyphs">0 p/s</text>
<text x="2132.30" y="605.80" font-size="10.48" fill="#ccccdc" stroke="#ccccdc" stroke-width="0.28" text-anchor="end" font-weight="normal"  textLength="23.41" lengthAdjust="spacingAndGlyphs">0 p/s</text>
<text x="2184.80" y="605.80" font-size="10.48" fill="#ccccdc" stroke="#ccccdc" stroke-width="0.28" text-anchor="end" font-weight="normal"  textLength="23.41" lengthAdjust="spacingAndGlyphs">0 p/s</text>
<line x1="1115" y1="612.6" x2="2191" y2="612.6" stroke="rgba(204,204,220,0.10)"/>
<text x="42.00" y="1032.80" font-size="10.18" fill="#72a0f7" stroke="#72a0f7" stroke-width="0.42" text-anchor="start" font-weight="normal"  textLength="28.28" lengthAdjust="spacingAndGlyphs">Name</text>
<text x="931.20" y="1032.80" font-size="10.27" fill="#72a0f7" stroke="#72a0f7" stroke-width="0.42" text-anchor="end" font-weight="normal"  textLength="17.24" lengthAdjust="spacingAndGlyphs">Min</text>
<text x="1010.20" y="1032.80" font-size="10.18" fill="#72a0f7" stroke="#72a0f7" stroke-width="0.42" text-anchor="end" font-weight="normal"  textLength="33.00" lengthAdjust="spacingAndGlyphs">90th %</text>
<path d="M1013.0,1028.8 L1015.2,1031.0 L1017.4,1028.8" fill="none" stroke="#72a0f7" stroke-width="1.1" stroke-linecap="round"/>
<text x="1070.20" y="1032.80" font-size="10.27" fill="#72a0f7" stroke="#72a0f7" stroke-width="0.42" text-anchor="end" font-weight="normal"  textLength="20.21" lengthAdjust="spacingAndGlyphs">Max</text>
<line x1="17" y1="1039.5" x2="1093" y2="1039.5" stroke="rgba(204,204,220,0.10)"/>
<line x1="24.7" y1="1049.4" x2="33.4" y2="1049.4" stroke="#c8d6ff" stroke-width="3.1" stroke-linecap="round"/>
<text x="42.00" y="1052.70" font-size="10.43" fill="#ccccdc" stroke="#ccccdc" stroke-width="0.28" text-anchor="start" font-weight="normal"  textLength="281.32" lengthAdjust="spacingAndGlyphs">Rx (gke-raintank-dev-pla-raintank-dev-pla-3cd3aafc-2si4)</text>
<text x="944.30" y="1052.70" font-size="10.48" fill="#ccccdc" stroke="#ccccdc" stroke-width="0.28" text-anchor="end" font-weight="normal"  textLength="49.23" lengthAdjust="spacingAndGlyphs">87.9 KiB/s</text>
<text x="1018.00" y="1052.70" font-size="10.48" fill="#ccccdc" stroke="#ccccdc" stroke-width="0.28" text-anchor="end" font-weight="normal"  textLength="46.23" lengthAdjust="spacingAndGlyphs">202 KiB/s</text>
<text x="1086.50" y="1052.70" font-size="10.48" fill="#ccccdc" stroke="#ccccdc" stroke-width="0.28" text-anchor="end" font-weight="normal"  textLength="46.23" lengthAdjust="spacingAndGlyphs">280 KiB/s</text>
<line x1="17" y1="1059.5" x2="1093" y2="1059.5" stroke="rgba(204,204,220,0.10)"/>
<line x1="24.7" y1="1069.3" x2="33.4" y2="1069.3" stroke="#e4ecff" stroke-width="3.1" stroke-linecap="round"/>
<text x="42.00" y="1072.60" font-size="10.43" fill="#ccccdc" stroke="#ccccdc" stroke-width="0.28" text-anchor="start" font-weight="normal"  textLength="283.19" lengthAdjust="spacingAndGlyphs">Rx (gke-raintank-dev-pla-raintank-dev-pla-b7e2d722-f2xt)</text>
<text x="944.30" y="1072.60" font-size="10.48" fill="#ccccdc" stroke="#ccccdc" stroke-width="0.28" text-anchor="end" font-weight="normal"  textLength="49.23" lengthAdjust="spacingAndGlyphs">47.2 KiB/s</text>
<text x="1018.00" y="1072.60" font-size="10.48" fill="#ccccdc" stroke="#ccccdc" stroke-width="0.28" text-anchor="end" font-weight="normal"  textLength="46.23" lengthAdjust="spacingAndGlyphs">103 KiB/s</text>
<text x="1086.50" y="1072.60" font-size="10.48" fill="#ccccdc" stroke="#ccccdc" stroke-width="0.28" text-anchor="end" font-weight="normal"  textLength="46.23" lengthAdjust="spacingAndGlyphs">215 KiB/s</text>
<line x1="17" y1="1079.4" x2="1093" y2="1079.4" stroke="rgba(204,204,220,0.10)"/>
<line x1="24.7" y1="1089.2" x2="33.4" y2="1089.2" stroke="#5179e0" stroke-width="3.1" stroke-linecap="round"/>
<text x="42.00" y="1092.50" font-size="10.43" fill="#ccccdc" stroke="#ccccdc" stroke-width="0.28" text-anchor="start" font-weight="normal"  textLength="281.95" lengthAdjust="spacingAndGlyphs">Tx (gke-raintank-dev-pla-raintank-dev-pla-b7e2d722-f2xt)</text>
<text x="944.30" y="1092.50" font-size="10.48" fill="#ccccdc" stroke="#ccccdc" stroke-width="0.28" text-anchor="end" font-weight="normal"  textLength="49.02" lengthAdjust="spacingAndGlyphs">-118 KiB/s</text>
<text x="1018.00" y="1092.50" font-size="10.48" fill="#ccccdc" stroke="#ccccdc" stroke-width="0.28" text-anchor="end" font-weight="normal"  textLength="52.82" lengthAdjust="spacingAndGlyphs">-52.0 KiB/s</text>
<text x="1086.50" y="1092.50" font-size="10.48" fill="#ccccdc" stroke="#ccccdc" stroke-width="0.28" text-anchor="end" font-weight="normal"  textLength="52.82" lengthAdjust="spacingAndGlyphs">-51.9 KiB/s</text>
<line x1="17" y1="1099.3" x2="1093" y2="1099.3" stroke="rgba(204,204,220,0.10)"/>
<line x1="24.7" y1="1109.1" x2="33.4" y2="1109.1" stroke="#3d63c2" stroke-width="3.1" stroke-linecap="round"/>
<text x="42.00" y="1112.40" font-size="10.43" fill="#ccccdc" stroke="#ccccdc" stroke-width="0.28" text-anchor="start" font-weight="normal"  textLength="280.09" lengthAdjust="spacingAndGlyphs">Tx (gke-raintank-dev-pla-raintank-dev-pla-3cd3aafc-2si4)</text>
<text x="944.30" y="1112.40" font-size="10.48" fill="#ccccdc" stroke="#ccccdc" stroke-width="0.28" text-anchor="end" font-weight="normal"  textLength="49.82" lengthAdjust="spacingAndGlyphs">-221 KiB/s</text>
<text x="1018.00" y="1112.40" font-size="10.48" fill="#ccccdc" stroke="#ccccdc" stroke-width="0.28" text-anchor="end" font-weight="normal"  textLength="52.82" lengthAdjust="spacingAndGlyphs">-94.4 KiB/s</text>
<text x="1086.50" y="1112.40" font-size="10.48" fill="#ccccdc" stroke="#ccccdc" stroke-width="0.28" text-anchor="end" font-weight="normal"  textLength="52.82" lengthAdjust="spacingAndGlyphs">-82.4 KiB/s</text>
<line x1="17" y1="1119.2" x2="1093" y2="1119.2" stroke="rgba(204,204,220,0.10)"/>
<text x="1140.00" y="1032.80" font-size="10.18" fill="#72a0f7" stroke="#72a0f7" stroke-width="0.42" text-anchor="start" font-weight="normal"  textLength="28.28" lengthAdjust="spacingAndGlyphs">Name</text>
<text x="2057.70" y="1032.80" font-size="10.27" fill="#72a0f7" stroke="#72a0f7" stroke-width="0.42" text-anchor="end" font-weight="normal"  textLength="17.24" lengthAdjust="spacingAndGlyphs">Min</text>
<text x="2124.30" y="1032.80" font-size="10.18" fill="#72a0f7" stroke="#72a0f7" stroke-width="0.42" text-anchor="end" font-weight="normal"  textLength="33.00" lengthAdjust="spacingAndGlyphs">90th %</text>
<path d="M2127.1,1028.8 L2129.3,1031.0 L2131.5,1028.8" fill="none" stroke="#72a0f7" stroke-width="1.1" stroke-linecap="round"/>
<text x="2184.30" y="1032.80" font-size="10.27" fill="#72a0f7" stroke="#72a0f7" stroke-width="0.42" text-anchor="end" font-weight="normal"  textLength="20.21" lengthAdjust="spacingAndGlyphs">Max</text>
<line x1="1115" y1="1039.5" x2="2191" y2="1039.5" stroke="rgba(204,204,220,0.10)"/>
<line x1="1122.7" y1="1049.4" x2="1131.4" y2="1049.4" stroke="#f2a8b0" stroke-width="3.1" stroke-linecap="round"/>
<text x="1140.00" y="1052.70" font-size="10.43" fill="#ccccdc" stroke="#ccccdc" stroke-width="0.28" text-anchor="start" font-weight="normal"  textLength="366.48" lengthAdjust="spacingAndGlyphs">Rx dropped packets (gke-raintank-dev-pla-raintank-dev-pla-3cd3aafc-2si4)</text>
<text x="2057.90" y="1052.70" font-size="10.48" fill="#ccccdc" stroke="#ccccdc" stroke-width="0.28" text-anchor="end" font-weight="normal"  textLength="23.41" lengthAdjust="spacingAndGlyphs">0 p/s</text>
<text x="2132.30" y="1052.70" font-size="10.48" fill="#ccccdc" stroke="#ccccdc" stroke-width="0.28" text-anchor="end" font-weight="normal"  textLength="23.41" lengthAdjust="spacingAndGlyphs">0 p/s</text>
<text x="2184.80" y="1052.70" font-size="10.48" fill="#ccccdc" stroke="#ccccdc" stroke-width="0.28" text-anchor="end" font-weight="normal"  textLength="23.41" lengthAdjust="spacingAndGlyphs">0 p/s</text>
<line x1="1115" y1="1059.5" x2="2191" y2="1059.5" stroke="rgba(204,204,220,0.10)"/>
<line x1="1122.7" y1="1069.3" x2="1131.4" y2="1069.3" stroke="#f7c0c6" stroke-width="3.1" stroke-linecap="round"/>
<text x="1140.00" y="1072.60" font-size="10.43" fill="#ccccdc" stroke="#ccccdc" stroke-width="0.28" text-anchor="start" font-weight="normal"  textLength="368.35" lengthAdjust="spacingAndGlyphs">Rx dropped packets (gke-raintank-dev-pla-raintank-dev-pla-b7e2d722-f2xt)</text>
<text x="2057.90" y="1072.60" font-size="10.48" fill="#ccccdc" stroke="#ccccdc" stroke-width="0.28" text-anchor="end" font-weight="normal"  textLength="23.41" lengthAdjust="spacingAndGlyphs">0 p/s</text>
<text x="2132.30" y="1072.60" font-size="10.48" fill="#ccccdc" stroke="#ccccdc" stroke-width="0.28" text-anchor="end" font-weight="normal"  textLength="23.41" lengthAdjust="spacingAndGlyphs">0 p/s</text>
<text x="2184.80" y="1072.60" font-size="10.48" fill="#ccccdc" stroke="#ccccdc" stroke-width="0.28" text-anchor="end" font-weight="normal"  textLength="23.41" lengthAdjust="spacingAndGlyphs">0 p/s</text>
<line x1="1115" y1="1079.4" x2="2191" y2="1079.4" stroke="rgba(204,204,220,0.10)"/>
<line x1="1122.7" y1="1089.2" x2="1131.4" y2="1089.2" stroke="#a83232" stroke-width="3.1" stroke-linecap="round"/>
<text x="1140.00" y="1092.50" font-size="10.43" fill="#ccccdc" stroke="#ccccdc" stroke-width="0.28" text-anchor="start" font-weight="normal"  textLength="365.25" lengthAdjust="spacingAndGlyphs">Tx dropped packets (gke-raintank-dev-pla-raintank-dev-pla-3cd3aafc-2si4)</text>
<text x="2057.90" y="1092.50" font-size="10.48" fill="#ccccdc" stroke="#ccccdc" stroke-width="0.28" text-anchor="end" font-weight="normal"  textLength="23.41" lengthAdjust="spacingAndGlyphs">0 p/s</text>
<text x="2132.30" y="1092.50" font-size="10.48" fill="#ccccdc" stroke="#ccccdc" stroke-width="0.28" text-anchor="end" font-weight="normal"  textLength="23.41" lengthAdjust="spacingAndGlyphs">0 p/s</text>
<text x="2184.80" y="1092.50" font-size="10.48" fill="#ccccdc" stroke="#ccccdc" stroke-width="0.28" text-anchor="end" font-weight="normal"  textLength="23.41" lengthAdjust="spacingAndGlyphs">0 p/s</text>
<line x1="1115" y1="1099.3" x2="2191" y2="1099.3" stroke="rgba(204,204,220,0.10)"/>
<line x1="1122.7" y1="1109.1" x2="1131.4" y2="1109.1" stroke="#d2463e" stroke-width="3.1" stroke-linecap="round"/>
<text x="1140.00" y="1112.40" font-size="10.43" fill="#ccccdc" stroke="#ccccdc" stroke-width="0.28" text-anchor="start" font-weight="normal"  textLength="367.11" lengthAdjust="spacingAndGlyphs">Tx dropped packets (gke-raintank-dev-pla-raintank-dev-pla-b7e2d722-f2xt)</text>
<text x="2057.90" y="1112.40" font-size="10.48" fill="#ccccdc" stroke="#ccccdc" stroke-width="0.28" text-anchor="end" font-weight="normal"  textLength="23.41" lengthAdjust="spacingAndGlyphs">0 p/s</text>
<text x="2132.30" y="1112.40" font-size="10.48" fill="#ccccdc" stroke="#ccccdc" stroke-width="0.28" text-anchor="end" font-weight="normal"  textLength="23.41" lengthAdjust="spacingAndGlyphs">0 p/s</text>
<text x="2184.80" y="1112.40" font-size="10.48" fill="#ccccdc" stroke="#ccccdc" stroke-width="0.28" text-anchor="end" font-weight="normal"  textLength="23.41" lengthAdjust="spacingAndGlyphs">0 p/s</text>
<line x1="1115" y1="1119.2" x2="2191" y2="1119.2" stroke="rgba(204,204,220,0.10)"/>
</svg>
</div></body></html>
